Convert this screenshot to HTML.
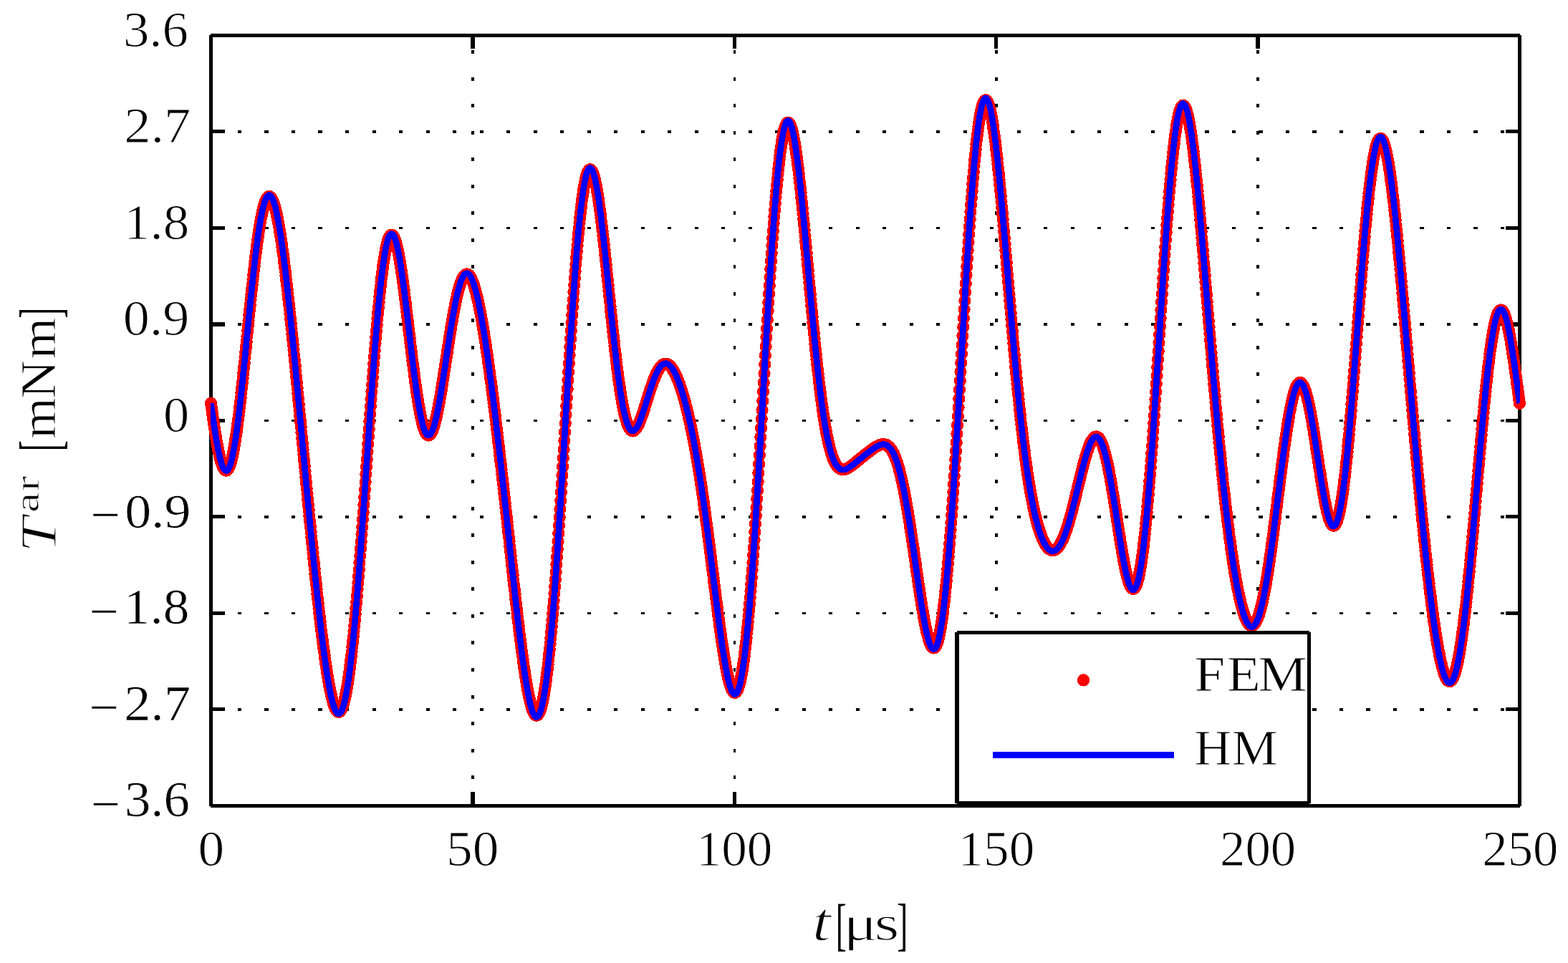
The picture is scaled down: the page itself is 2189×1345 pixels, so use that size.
<!DOCTYPE html>
<html lang="en"><head><meta charset="utf-8"><title>T ar plot</title>
<style>html,body{margin:0;padding:0;background:#fff}body{width:2189px;height:1345px;overflow:hidden}svg{display:block}text{font-family:"Liberation Serif","DejaVu Serif",serif;fill:#000}</style></head><body>
<svg width="2189" height="1345" viewBox="0 0 2189 1345">
<rect width="2189" height="1345" fill="#fff"/>
<g fill="#000" shape-rendering="crispEdges">
<rect x="332" y="182" width="5" height="4"/>
<rect x="369" y="182" width="6" height="4"/>
<rect x="407" y="182" width="5" height="4"/>
<rect x="444" y="182" width="6" height="4"/>
<rect x="482" y="182" width="5" height="4"/>
<rect x="520" y="182" width="5" height="4"/>
<rect x="557" y="182" width="5" height="4"/>
<rect x="595" y="182" width="5" height="4"/>
<rect x="632" y="182" width="5" height="4"/>
<rect x="670" y="182" width="5" height="4"/>
<rect x="707" y="182" width="5" height="4"/>
<rect x="745" y="182" width="5" height="4"/>
<rect x="782" y="182" width="5" height="4"/>
<rect x="820" y="182" width="5" height="4"/>
<rect x="857" y="182" width="5" height="4"/>
<rect x="895" y="182" width="5" height="4"/>
<rect x="932" y="182" width="5" height="4"/>
<rect x="970" y="182" width="5" height="4"/>
<rect x="1007" y="182" width="5" height="4"/>
<rect x="1045" y="182" width="5" height="4"/>
<rect x="1082" y="182" width="5" height="4"/>
<rect x="1120" y="182" width="5" height="4"/>
<rect x="1157" y="182" width="5" height="4"/>
<rect x="1195" y="182" width="5" height="4"/>
<rect x="1232" y="182" width="5" height="4"/>
<rect x="1270" y="182" width="5" height="4"/>
<rect x="1307" y="182" width="5" height="4"/>
<rect x="1345" y="182" width="5" height="4"/>
<rect x="1382" y="182" width="5" height="4"/>
<rect x="1420" y="182" width="5" height="4"/>
<rect x="1457" y="182" width="5" height="4"/>
<rect x="1495" y="182" width="5" height="4"/>
<rect x="1532" y="182" width="5" height="4"/>
<rect x="1570" y="182" width="5" height="4"/>
<rect x="1607" y="182" width="5" height="4"/>
<rect x="1645" y="182" width="5" height="4"/>
<rect x="1682" y="182" width="6" height="4"/>
<rect x="1720" y="182" width="5" height="4"/>
<rect x="1757" y="182" width="6" height="4"/>
<rect x="1795" y="182" width="5" height="4"/>
<rect x="1832" y="182" width="6" height="4"/>
<rect x="1870" y="182" width="5" height="4"/>
<rect x="1907" y="182" width="6" height="4"/>
<rect x="1945" y="182" width="5" height="4"/>
<rect x="1982" y="182" width="6" height="4"/>
<rect x="2020" y="182" width="5" height="4"/>
<rect x="2057" y="182" width="6" height="4"/>
<rect x="2095" y="182" width="5" height="4"/>
<rect x="332" y="317" width="5" height="3"/>
<rect x="369" y="317" width="6" height="3"/>
<rect x="407" y="317" width="5" height="3"/>
<rect x="444" y="317" width="6" height="3"/>
<rect x="482" y="317" width="5" height="3"/>
<rect x="520" y="317" width="5" height="3"/>
<rect x="557" y="317" width="5" height="3"/>
<rect x="595" y="317" width="5" height="3"/>
<rect x="632" y="317" width="5" height="3"/>
<rect x="670" y="317" width="5" height="3"/>
<rect x="707" y="317" width="5" height="3"/>
<rect x="745" y="317" width="5" height="3"/>
<rect x="782" y="317" width="5" height="3"/>
<rect x="820" y="317" width="5" height="3"/>
<rect x="857" y="317" width="5" height="3"/>
<rect x="895" y="317" width="5" height="3"/>
<rect x="932" y="317" width="5" height="3"/>
<rect x="970" y="317" width="5" height="3"/>
<rect x="1007" y="317" width="5" height="3"/>
<rect x="1045" y="317" width="5" height="3"/>
<rect x="1082" y="317" width="5" height="3"/>
<rect x="1120" y="317" width="5" height="3"/>
<rect x="1157" y="317" width="5" height="3"/>
<rect x="1195" y="317" width="5" height="3"/>
<rect x="1232" y="317" width="5" height="3"/>
<rect x="1270" y="317" width="5" height="3"/>
<rect x="1307" y="317" width="5" height="3"/>
<rect x="1345" y="317" width="5" height="3"/>
<rect x="1382" y="317" width="5" height="3"/>
<rect x="1420" y="317" width="5" height="3"/>
<rect x="1457" y="317" width="5" height="3"/>
<rect x="1495" y="317" width="5" height="3"/>
<rect x="1532" y="317" width="5" height="3"/>
<rect x="1570" y="317" width="5" height="3"/>
<rect x="1607" y="317" width="5" height="3"/>
<rect x="1645" y="317" width="5" height="3"/>
<rect x="1682" y="317" width="6" height="3"/>
<rect x="1720" y="317" width="5" height="3"/>
<rect x="1757" y="317" width="6" height="3"/>
<rect x="1795" y="317" width="5" height="3"/>
<rect x="1832" y="317" width="6" height="3"/>
<rect x="1870" y="317" width="5" height="3"/>
<rect x="1907" y="317" width="6" height="3"/>
<rect x="1945" y="317" width="5" height="3"/>
<rect x="1982" y="317" width="6" height="3"/>
<rect x="2020" y="317" width="5" height="3"/>
<rect x="2057" y="317" width="6" height="3"/>
<rect x="2095" y="317" width="5" height="3"/>
<rect x="332" y="451" width="5" height="4"/>
<rect x="369" y="451" width="6" height="4"/>
<rect x="407" y="451" width="5" height="4"/>
<rect x="444" y="451" width="6" height="4"/>
<rect x="482" y="451" width="5" height="4"/>
<rect x="520" y="451" width="5" height="4"/>
<rect x="557" y="451" width="5" height="4"/>
<rect x="595" y="451" width="5" height="4"/>
<rect x="632" y="451" width="5" height="4"/>
<rect x="670" y="451" width="5" height="4"/>
<rect x="707" y="451" width="5" height="4"/>
<rect x="745" y="451" width="5" height="4"/>
<rect x="782" y="451" width="5" height="4"/>
<rect x="820" y="451" width="5" height="4"/>
<rect x="857" y="451" width="5" height="4"/>
<rect x="895" y="451" width="5" height="4"/>
<rect x="932" y="451" width="5" height="4"/>
<rect x="970" y="451" width="5" height="4"/>
<rect x="1007" y="451" width="5" height="4"/>
<rect x="1045" y="451" width="5" height="4"/>
<rect x="1082" y="451" width="5" height="4"/>
<rect x="1120" y="451" width="5" height="4"/>
<rect x="1157" y="451" width="5" height="4"/>
<rect x="1195" y="451" width="5" height="4"/>
<rect x="1232" y="451" width="5" height="4"/>
<rect x="1270" y="451" width="5" height="4"/>
<rect x="1307" y="451" width="5" height="4"/>
<rect x="1345" y="451" width="5" height="4"/>
<rect x="1382" y="451" width="5" height="4"/>
<rect x="1420" y="451" width="5" height="4"/>
<rect x="1457" y="451" width="5" height="4"/>
<rect x="1495" y="451" width="5" height="4"/>
<rect x="1532" y="451" width="5" height="4"/>
<rect x="1570" y="451" width="5" height="4"/>
<rect x="1607" y="451" width="5" height="4"/>
<rect x="1645" y="451" width="5" height="4"/>
<rect x="1682" y="451" width="6" height="4"/>
<rect x="1720" y="451" width="5" height="4"/>
<rect x="1757" y="451" width="6" height="4"/>
<rect x="1795" y="451" width="5" height="4"/>
<rect x="1832" y="451" width="6" height="4"/>
<rect x="1870" y="451" width="5" height="4"/>
<rect x="1907" y="451" width="6" height="4"/>
<rect x="1945" y="451" width="5" height="4"/>
<rect x="1982" y="451" width="6" height="4"/>
<rect x="2020" y="451" width="5" height="4"/>
<rect x="2057" y="451" width="6" height="4"/>
<rect x="2095" y="451" width="5" height="4"/>
<rect x="332" y="586" width="5" height="3"/>
<rect x="369" y="586" width="6" height="3"/>
<rect x="407" y="586" width="5" height="3"/>
<rect x="444" y="586" width="6" height="3"/>
<rect x="482" y="586" width="5" height="3"/>
<rect x="520" y="586" width="5" height="3"/>
<rect x="557" y="586" width="5" height="3"/>
<rect x="595" y="586" width="5" height="3"/>
<rect x="632" y="586" width="5" height="3"/>
<rect x="670" y="586" width="5" height="3"/>
<rect x="707" y="586" width="5" height="3"/>
<rect x="745" y="586" width="5" height="3"/>
<rect x="782" y="586" width="5" height="3"/>
<rect x="820" y="586" width="5" height="3"/>
<rect x="857" y="586" width="5" height="3"/>
<rect x="895" y="586" width="5" height="3"/>
<rect x="932" y="586" width="5" height="3"/>
<rect x="970" y="586" width="5" height="3"/>
<rect x="1007" y="586" width="5" height="3"/>
<rect x="1045" y="586" width="5" height="3"/>
<rect x="1082" y="586" width="5" height="3"/>
<rect x="1120" y="586" width="5" height="3"/>
<rect x="1157" y="586" width="5" height="3"/>
<rect x="1195" y="586" width="5" height="3"/>
<rect x="1232" y="586" width="5" height="3"/>
<rect x="1270" y="586" width="5" height="3"/>
<rect x="1307" y="586" width="5" height="3"/>
<rect x="1345" y="586" width="5" height="3"/>
<rect x="1382" y="586" width="5" height="3"/>
<rect x="1420" y="586" width="5" height="3"/>
<rect x="1457" y="586" width="5" height="3"/>
<rect x="1495" y="586" width="5" height="3"/>
<rect x="1532" y="586" width="5" height="3"/>
<rect x="1570" y="586" width="5" height="3"/>
<rect x="1607" y="586" width="5" height="3"/>
<rect x="1645" y="586" width="5" height="3"/>
<rect x="1682" y="586" width="6" height="3"/>
<rect x="1720" y="586" width="5" height="3"/>
<rect x="1757" y="586" width="6" height="3"/>
<rect x="1795" y="586" width="5" height="3"/>
<rect x="1832" y="586" width="6" height="3"/>
<rect x="1870" y="586" width="5" height="3"/>
<rect x="1907" y="586" width="6" height="3"/>
<rect x="1945" y="586" width="5" height="3"/>
<rect x="1982" y="586" width="6" height="3"/>
<rect x="2020" y="586" width="5" height="3"/>
<rect x="2057" y="586" width="6" height="3"/>
<rect x="2095" y="586" width="5" height="3"/>
<rect x="332" y="720" width="5" height="4"/>
<rect x="369" y="720" width="6" height="4"/>
<rect x="407" y="720" width="5" height="4"/>
<rect x="444" y="720" width="6" height="4"/>
<rect x="482" y="720" width="5" height="4"/>
<rect x="520" y="720" width="5" height="4"/>
<rect x="557" y="720" width="5" height="4"/>
<rect x="595" y="720" width="5" height="4"/>
<rect x="632" y="720" width="5" height="4"/>
<rect x="670" y="720" width="5" height="4"/>
<rect x="707" y="720" width="5" height="4"/>
<rect x="745" y="720" width="5" height="4"/>
<rect x="782" y="720" width="5" height="4"/>
<rect x="820" y="720" width="5" height="4"/>
<rect x="857" y="720" width="5" height="4"/>
<rect x="895" y="720" width="5" height="4"/>
<rect x="932" y="720" width="5" height="4"/>
<rect x="970" y="720" width="5" height="4"/>
<rect x="1007" y="720" width="5" height="4"/>
<rect x="1045" y="720" width="5" height="4"/>
<rect x="1082" y="720" width="5" height="4"/>
<rect x="1120" y="720" width="5" height="4"/>
<rect x="1157" y="720" width="5" height="4"/>
<rect x="1195" y="720" width="5" height="4"/>
<rect x="1232" y="720" width="5" height="4"/>
<rect x="1270" y="720" width="5" height="4"/>
<rect x="1307" y="720" width="5" height="4"/>
<rect x="1345" y="720" width="5" height="4"/>
<rect x="1382" y="720" width="5" height="4"/>
<rect x="1420" y="720" width="5" height="4"/>
<rect x="1457" y="720" width="5" height="4"/>
<rect x="1495" y="720" width="5" height="4"/>
<rect x="1532" y="720" width="5" height="4"/>
<rect x="1570" y="720" width="5" height="4"/>
<rect x="1607" y="720" width="5" height="4"/>
<rect x="1645" y="720" width="5" height="4"/>
<rect x="1682" y="720" width="6" height="4"/>
<rect x="1720" y="720" width="5" height="4"/>
<rect x="1757" y="720" width="6" height="4"/>
<rect x="1795" y="720" width="5" height="4"/>
<rect x="1832" y="720" width="6" height="4"/>
<rect x="1870" y="720" width="5" height="4"/>
<rect x="1907" y="720" width="6" height="4"/>
<rect x="1945" y="720" width="5" height="4"/>
<rect x="1982" y="720" width="6" height="4"/>
<rect x="2020" y="720" width="5" height="4"/>
<rect x="2057" y="720" width="6" height="4"/>
<rect x="2095" y="720" width="5" height="4"/>
<rect x="332" y="855" width="5" height="3"/>
<rect x="369" y="855" width="6" height="3"/>
<rect x="407" y="855" width="5" height="3"/>
<rect x="444" y="855" width="6" height="3"/>
<rect x="482" y="855" width="5" height="3"/>
<rect x="520" y="855" width="5" height="3"/>
<rect x="557" y="855" width="5" height="3"/>
<rect x="595" y="855" width="5" height="3"/>
<rect x="632" y="855" width="5" height="3"/>
<rect x="670" y="855" width="5" height="3"/>
<rect x="707" y="855" width="5" height="3"/>
<rect x="745" y="855" width="5" height="3"/>
<rect x="782" y="855" width="5" height="3"/>
<rect x="820" y="855" width="5" height="3"/>
<rect x="857" y="855" width="5" height="3"/>
<rect x="895" y="855" width="5" height="3"/>
<rect x="932" y="855" width="5" height="3"/>
<rect x="970" y="855" width="5" height="3"/>
<rect x="1007" y="855" width="5" height="3"/>
<rect x="1045" y="855" width="5" height="3"/>
<rect x="1082" y="855" width="5" height="3"/>
<rect x="1120" y="855" width="5" height="3"/>
<rect x="1157" y="855" width="5" height="3"/>
<rect x="1195" y="855" width="5" height="3"/>
<rect x="1232" y="855" width="5" height="3"/>
<rect x="1270" y="855" width="5" height="3"/>
<rect x="1307" y="855" width="5" height="3"/>
<rect x="1345" y="855" width="5" height="3"/>
<rect x="1382" y="855" width="5" height="3"/>
<rect x="1420" y="855" width="5" height="3"/>
<rect x="1457" y="855" width="5" height="3"/>
<rect x="1495" y="855" width="5" height="3"/>
<rect x="1532" y="855" width="5" height="3"/>
<rect x="1570" y="855" width="5" height="3"/>
<rect x="1607" y="855" width="5" height="3"/>
<rect x="1645" y="855" width="5" height="3"/>
<rect x="1682" y="855" width="6" height="3"/>
<rect x="1720" y="855" width="5" height="3"/>
<rect x="1757" y="855" width="6" height="3"/>
<rect x="1795" y="855" width="5" height="3"/>
<rect x="1832" y="855" width="6" height="3"/>
<rect x="1870" y="855" width="5" height="3"/>
<rect x="1907" y="855" width="6" height="3"/>
<rect x="1945" y="855" width="5" height="3"/>
<rect x="1982" y="855" width="6" height="3"/>
<rect x="2020" y="855" width="5" height="3"/>
<rect x="2057" y="855" width="6" height="3"/>
<rect x="2095" y="855" width="5" height="3"/>
<rect x="332" y="989" width="5" height="4"/>
<rect x="369" y="989" width="6" height="4"/>
<rect x="407" y="989" width="5" height="4"/>
<rect x="444" y="989" width="6" height="4"/>
<rect x="482" y="989" width="5" height="4"/>
<rect x="520" y="989" width="5" height="4"/>
<rect x="557" y="989" width="5" height="4"/>
<rect x="595" y="989" width="5" height="4"/>
<rect x="632" y="989" width="5" height="4"/>
<rect x="670" y="989" width="5" height="4"/>
<rect x="707" y="989" width="5" height="4"/>
<rect x="745" y="989" width="5" height="4"/>
<rect x="782" y="989" width="5" height="4"/>
<rect x="820" y="989" width="5" height="4"/>
<rect x="857" y="989" width="5" height="4"/>
<rect x="895" y="989" width="5" height="4"/>
<rect x="932" y="989" width="5" height="4"/>
<rect x="970" y="989" width="5" height="4"/>
<rect x="1007" y="989" width="5" height="4"/>
<rect x="1045" y="989" width="5" height="4"/>
<rect x="1082" y="989" width="5" height="4"/>
<rect x="1120" y="989" width="5" height="4"/>
<rect x="1157" y="989" width="5" height="4"/>
<rect x="1195" y="989" width="5" height="4"/>
<rect x="1232" y="989" width="5" height="4"/>
<rect x="1270" y="989" width="5" height="4"/>
<rect x="1307" y="989" width="5" height="4"/>
<rect x="1345" y="989" width="5" height="4"/>
<rect x="1382" y="989" width="5" height="4"/>
<rect x="1420" y="989" width="5" height="4"/>
<rect x="1457" y="989" width="5" height="4"/>
<rect x="1495" y="989" width="5" height="4"/>
<rect x="1532" y="989" width="5" height="4"/>
<rect x="1570" y="989" width="5" height="4"/>
<rect x="1607" y="989" width="5" height="4"/>
<rect x="1645" y="989" width="5" height="4"/>
<rect x="1682" y="989" width="6" height="4"/>
<rect x="1720" y="989" width="5" height="4"/>
<rect x="1757" y="989" width="6" height="4"/>
<rect x="1795" y="989" width="5" height="4"/>
<rect x="1832" y="989" width="6" height="4"/>
<rect x="1870" y="989" width="5" height="4"/>
<rect x="1907" y="989" width="6" height="4"/>
<rect x="1945" y="989" width="5" height="4"/>
<rect x="1982" y="989" width="6" height="4"/>
<rect x="2020" y="989" width="5" height="4"/>
<rect x="2057" y="989" width="6" height="4"/>
<rect x="2095" y="989" width="5" height="4"/>
<rect x="658" y="1083" width="4" height="5"/>
<rect x="658" y="1046" width="4" height="5"/>
<rect x="658" y="1008" width="4" height="5"/>
<rect x="658" y="971" width="4" height="5"/>
<rect x="658" y="933" width="4" height="5"/>
<rect x="658" y="895" width="4" height="5"/>
<rect x="658" y="858" width="4" height="5"/>
<rect x="658" y="820" width="4" height="5"/>
<rect x="658" y="783" width="4" height="5"/>
<rect x="658" y="745" width="4" height="5"/>
<rect x="658" y="708" width="4" height="5"/>
<rect x="658" y="670" width="4" height="5"/>
<rect x="658" y="633" width="4" height="5"/>
<rect x="658" y="595" width="4" height="5"/>
<rect x="658" y="558" width="4" height="5"/>
<rect x="658" y="520" width="4" height="5"/>
<rect x="658" y="483" width="4" height="5"/>
<rect x="658" y="445" width="4" height="5"/>
<rect x="658" y="408" width="4" height="5"/>
<rect x="658" y="370" width="4" height="5"/>
<rect x="658" y="333" width="4" height="5"/>
<rect x="658" y="295" width="4" height="5"/>
<rect x="658" y="258" width="4" height="5"/>
<rect x="658" y="220" width="4" height="5"/>
<rect x="658" y="183" width="4" height="5"/>
<rect x="658" y="145" width="4" height="5"/>
<rect x="658" y="108" width="4" height="5"/>
<rect x="658" y="70" width="4" height="5"/>
<rect x="1024" y="1083" width="3" height="5"/>
<rect x="1024" y="1046" width="3" height="5"/>
<rect x="1024" y="1008" width="3" height="5"/>
<rect x="1024" y="971" width="3" height="5"/>
<rect x="1024" y="933" width="3" height="5"/>
<rect x="1024" y="895" width="3" height="5"/>
<rect x="1024" y="858" width="3" height="5"/>
<rect x="1024" y="820" width="3" height="5"/>
<rect x="1024" y="783" width="3" height="5"/>
<rect x="1024" y="745" width="3" height="5"/>
<rect x="1024" y="708" width="3" height="5"/>
<rect x="1024" y="670" width="3" height="5"/>
<rect x="1024" y="633" width="3" height="5"/>
<rect x="1024" y="595" width="3" height="5"/>
<rect x="1024" y="558" width="3" height="5"/>
<rect x="1024" y="520" width="3" height="5"/>
<rect x="1024" y="483" width="3" height="5"/>
<rect x="1024" y="445" width="3" height="5"/>
<rect x="1024" y="408" width="3" height="5"/>
<rect x="1024" y="370" width="3" height="5"/>
<rect x="1024" y="333" width="3" height="5"/>
<rect x="1024" y="295" width="3" height="5"/>
<rect x="1024" y="258" width="3" height="5"/>
<rect x="1024" y="220" width="3" height="5"/>
<rect x="1024" y="183" width="3" height="5"/>
<rect x="1024" y="145" width="3" height="5"/>
<rect x="1024" y="108" width="3" height="5"/>
<rect x="1024" y="70" width="3" height="5"/>
<rect x="1389" y="1083" width="4" height="5"/>
<rect x="1389" y="1046" width="4" height="5"/>
<rect x="1389" y="1008" width="4" height="5"/>
<rect x="1389" y="971" width="4" height="5"/>
<rect x="1389" y="933" width="4" height="5"/>
<rect x="1389" y="895" width="4" height="5"/>
<rect x="1389" y="858" width="4" height="5"/>
<rect x="1389" y="820" width="4" height="5"/>
<rect x="1389" y="783" width="4" height="5"/>
<rect x="1389" y="745" width="4" height="5"/>
<rect x="1389" y="708" width="4" height="5"/>
<rect x="1389" y="670" width="4" height="5"/>
<rect x="1389" y="633" width="4" height="5"/>
<rect x="1389" y="595" width="4" height="5"/>
<rect x="1389" y="558" width="4" height="5"/>
<rect x="1389" y="520" width="4" height="5"/>
<rect x="1389" y="483" width="4" height="5"/>
<rect x="1389" y="445" width="4" height="5"/>
<rect x="1389" y="408" width="4" height="5"/>
<rect x="1389" y="370" width="4" height="5"/>
<rect x="1389" y="333" width="4" height="5"/>
<rect x="1389" y="295" width="4" height="5"/>
<rect x="1389" y="258" width="4" height="5"/>
<rect x="1389" y="220" width="4" height="5"/>
<rect x="1389" y="183" width="4" height="5"/>
<rect x="1389" y="145" width="4" height="5"/>
<rect x="1389" y="108" width="4" height="5"/>
<rect x="1389" y="70" width="4" height="5"/>
<rect x="1754" y="1083" width="4" height="5"/>
<rect x="1754" y="1046" width="4" height="5"/>
<rect x="1754" y="1008" width="4" height="5"/>
<rect x="1754" y="971" width="4" height="5"/>
<rect x="1754" y="933" width="4" height="5"/>
<rect x="1754" y="895" width="4" height="5"/>
<rect x="1754" y="858" width="4" height="5"/>
<rect x="1754" y="820" width="4" height="5"/>
<rect x="1754" y="783" width="4" height="5"/>
<rect x="1754" y="745" width="4" height="5"/>
<rect x="1754" y="708" width="4" height="5"/>
<rect x="1754" y="670" width="4" height="5"/>
<rect x="1754" y="633" width="4" height="5"/>
<rect x="1754" y="595" width="4" height="5"/>
<rect x="1754" y="558" width="4" height="5"/>
<rect x="1754" y="520" width="4" height="5"/>
<rect x="1754" y="483" width="4" height="5"/>
<rect x="1754" y="445" width="4" height="5"/>
<rect x="1754" y="408" width="4" height="5"/>
<rect x="1754" y="370" width="4" height="5"/>
<rect x="1754" y="333" width="4" height="5"/>
<rect x="1754" y="295" width="4" height="5"/>
<rect x="1754" y="258" width="4" height="5"/>
<rect x="1754" y="220" width="4" height="5"/>
<rect x="1754" y="183" width="4" height="5"/>
<rect x="1754" y="145" width="4" height="5"/>
<rect x="1754" y="108" width="4" height="5"/>
<rect x="1754" y="70" width="4" height="5"/>
<rect x="294" y="47" width="1828" height="5"/>
<rect x="294" y="1123" width="1828" height="5"/>
<rect x="292" y="49" width="5" height="1077"/>
<rect x="2119" y="49" width="5" height="1077"/>
<rect x="297" y="181" width="17" height="5"/>
<rect x="2102" y="181" width="17" height="5"/>
<rect x="297" y="316" width="17" height="5"/>
<rect x="2102" y="316" width="17" height="5"/>
<rect x="297" y="450" width="17" height="6"/>
<rect x="2102" y="450" width="17" height="6"/>
<rect x="297" y="585" width="17" height="5"/>
<rect x="2102" y="585" width="17" height="5"/>
<rect x="297" y="719" width="17" height="5"/>
<rect x="2102" y="719" width="17" height="5"/>
<rect x="297" y="854" width="17" height="5"/>
<rect x="2102" y="854" width="17" height="5"/>
<rect x="297" y="988" width="17" height="5"/>
<rect x="2102" y="988" width="17" height="5"/>
<rect x="657" y="52" width="6" height="16"/>
<rect x="657" y="1106" width="6" height="17"/>
<rect x="1023" y="52" width="5" height="16"/>
<rect x="1023" y="1106" width="5" height="17"/>
<rect x="1388" y="52" width="5" height="16"/>
<rect x="1388" y="1106" width="5" height="17"/>
<rect x="1753" y="52" width="6" height="16"/>
<rect x="1753" y="1106" width="6" height="17"/>
</g>
<clipPath id="axclip"><rect x="294" y="0" width="1828" height="1345"/></clipPath>
<g fill="none" shape-rendering="crispEdges">
<marker id="fem" markerWidth="20" markerHeight="20" refX="10" refY="10" markerUnits="userSpaceOnUse"><circle cx="10" cy="10" r="8.6" fill="#f00" shape-rendering="crispEdges"/></marker>
<polyline stroke="none" marker-start="url(#fem)" marker-mid="url(#fem)" marker-end="url(#fem)" points="294.5,563.3 295.2,568.6 296.0,573.8 296.7,579.0 297.4,584.1 298.2,589.1 298.9,594.0 299.6,598.8 300.3,603.5 301.1,608.1 301.8,612.5 302.5,616.7 303.3,620.8 304.0,624.7 304.7,628.5 305.5,632.0 306.2,635.3 306.9,638.5 307.7,641.4 308.4,644.1 309.1,646.5 309.8,648.7 310.6,650.7 311.3,652.4 312.0,653.9 312.8,655.1 313.5,656.0 314.2,656.7 315.0,657.1 315.7,657.2 316.4,657.0 317.2,656.6 317.9,655.9 318.6,654.9 319.3,653.7 320.1,652.1 320.8,650.3 321.5,648.2 322.3,645.8 323.0,643.2 323.7,640.3 324.5,637.1 325.2,633.7 325.9,630.0 326.7,626.0 327.4,621.8 328.1,617.4 328.8,612.8 329.6,607.9 330.3,602.8 331.0,597.5 331.8,592.0 332.5,586.3 333.2,580.4 334.0,574.4 334.7,568.2 335.4,561.8 336.2,555.3 336.9,548.6 337.6,541.9 338.3,535.0 339.1,528.0 339.8,520.9 340.5,513.7 341.3,506.5 342.0,499.2 342.7,491.9 343.5,484.5 344.2,477.1 344.9,469.7 345.7,462.3 346.4,454.9 347.1,447.5 347.8,440.2 348.6,432.9 349.3,425.7 350.0,418.5 350.8,411.4 351.5,404.4 352.2,397.5 353.0,390.7 353.7,384.0 354.4,377.5 355.2,371.1 355.9,364.8 356.6,358.7 357.3,352.7 358.1,347.0 358.8,341.4 359.5,336.0 360.3,330.7 361.0,325.7 361.7,320.9 362.5,316.3 363.2,311.9 363.9,307.8 364.7,303.8 365.4,300.2 366.1,296.7 366.8,293.5 367.6,290.5 368.3,287.8 369.0,285.3 369.8,283.1 370.5,281.1 371.2,279.4 372.0,277.9 372.7,276.7 373.4,275.8 374.2,275.1 374.9,274.6 375.6,274.4 376.3,274.5 377.1,274.8 377.8,275.4 378.5,276.2 379.3,277.3 380.0,278.6 380.7,280.1 381.5,281.9 382.2,284.0 382.9,286.2 383.7,288.7 384.4,291.4 385.1,294.3 385.9,297.5 386.6,300.8 387.3,304.4 388.0,308.1 388.8,312.1 389.5,316.2 390.2,320.5 391.0,325.1 391.7,329.7 392.4,334.6 393.2,339.6 393.9,344.8 394.6,350.1 395.4,355.6 396.1,361.2 396.8,367.0 397.5,372.9 398.3,378.9 399.0,385.1 399.7,391.4 400.5,397.7 401.2,404.2 401.9,410.8 402.7,417.5 403.4,424.3 404.1,431.2 404.9,438.1 405.6,445.2 406.3,452.3 407.0,459.4 407.8,466.7 408.5,474.0 409.2,481.4 410.0,488.8 410.7,496.2 411.4,503.8 412.2,511.3 412.9,518.9 413.6,526.5 414.4,534.2 415.1,541.9 415.8,549.6 416.5,557.3 417.3,565.1 418.0,572.9 418.7,580.7 419.5,588.5 420.2,596.3 420.9,604.1 421.7,611.9 422.4,619.8 423.1,627.6 423.9,635.4 424.6,643.2 425.3,651.0 426.0,658.8 426.8,666.6 427.5,674.4 428.2,682.1 429.0,689.8 429.7,697.5 430.4,705.2 431.2,712.9 431.9,720.5 432.6,728.1 433.4,735.6 434.1,743.2 434.8,750.6 435.5,758.1 436.3,765.5 437.0,772.8 437.7,780.1 438.5,787.3 439.2,794.5 439.9,801.6 440.7,808.7 441.4,815.7 442.1,822.6 442.9,829.5 443.6,836.2 444.3,842.9 445.0,849.5 445.8,856.0 446.5,862.5 447.2,868.8 448.0,875.0 448.7,881.1 449.4,887.2 450.2,893.1 450.9,898.8 451.6,904.5 452.4,910.0 453.1,915.4 453.8,920.7 454.5,925.8 455.3,930.8 456.0,935.7 456.7,940.3 457.5,944.9 458.2,949.2 458.9,953.4 459.7,957.4 460.4,961.2 461.1,964.9 461.9,968.3 462.6,971.6 463.3,974.7 464.0,977.5 464.8,980.2 465.5,982.6 466.2,984.9 467.0,986.9 467.7,988.6 468.4,990.2 469.2,991.5 469.9,992.6 470.6,993.4 471.4,994.0 472.1,994.4 472.8,994.5 473.5,994.3 474.3,993.9 475.0,993.2 475.7,992.3 476.5,991.1 477.2,989.6 477.9,987.8 478.7,985.8 479.4,983.6 480.1,981.0 480.9,978.2 481.6,975.1 482.3,971.7 483.0,968.1 483.8,964.2 484.5,960.0 485.2,955.5 486.0,950.8 486.7,945.8 487.4,940.5 488.2,935.0 488.9,929.2 489.6,923.2 490.4,916.9 491.1,910.4 491.8,903.6 492.5,896.5 493.3,889.3 494.0,881.8 494.7,874.1 495.5,866.1 496.2,858.0 496.9,849.6 497.7,841.1 498.4,832.3 499.1,823.4 499.9,814.3 500.6,805.0 501.3,795.6 502.0,786.0 502.8,776.3 503.5,766.4 504.2,756.5 505.0,746.4 505.7,736.2 506.4,725.9 507.2,715.5 507.9,705.1 508.6,694.6 509.4,684.0 510.1,673.4 510.8,662.8 511.5,652.1 512.3,641.5 513.0,630.8 513.7,620.2 514.5,609.6 515.2,599.1 515.9,588.6 516.7,578.1 517.4,567.8 518.1,557.5 518.9,547.4 519.6,537.3 520.3,527.4 521.0,517.6 521.8,507.9 522.5,498.4 523.2,489.1 524.0,479.9 524.7,471.0 525.4,462.2 526.2,453.7 526.9,445.3 527.6,437.2 528.4,429.4 529.1,421.7 529.8,414.4 530.5,407.2 531.3,400.4 532.0,393.8 532.7,387.6 533.5,381.6 534.2,375.9 534.9,370.5 535.7,365.4 536.4,360.6 537.1,356.2 537.9,352.1 538.6,348.2 539.3,344.8 540.0,341.6 540.8,338.8 541.5,336.3 542.2,334.1 543.0,332.3 543.7,330.8 544.4,329.6 545.2,328.8 545.9,328.3 546.6,328.1 547.4,328.2 548.1,328.7 548.8,329.4 549.5,330.5 550.3,331.9 551.0,333.6 551.7,335.5 552.5,337.8 553.2,340.3 553.9,343.1 554.7,346.2 555.4,349.6 556.1,353.1 556.9,356.9 557.6,361.0 558.3,365.3 559.0,369.7 559.8,374.4 560.5,379.3 561.2,384.3 562.0,389.5 562.7,394.8 563.4,400.3 564.2,406.0 564.9,411.7 565.6,417.6 566.4,423.5 567.1,429.5 567.8,435.6 568.5,441.8 569.3,448.0 570.0,454.2 570.7,460.4 571.5,466.7 572.2,472.9 572.9,479.1 573.7,485.3 574.4,491.5 575.1,497.5 575.9,503.6 576.6,509.5 577.3,515.4 578.1,521.1 578.8,526.8 579.5,532.3 580.2,537.7 581.0,542.9 581.7,548.0 582.4,552.9 583.2,557.7 583.9,562.3 584.6,566.7 585.4,570.9 586.1,574.9 586.8,578.7 587.6,582.3 588.3,585.7 589.0,588.8 589.7,591.7 590.5,594.4 591.2,596.9 591.9,599.1 592.7,601.0 593.4,602.8 594.1,604.3 594.9,605.5 595.6,606.5 596.3,607.2 597.1,607.7 597.8,608.0 598.5,608.0 599.2,607.7 600.0,607.2 600.7,606.5 601.4,605.6 602.2,604.4 602.9,603.0 603.6,601.3 604.4,599.5 605.1,597.4 605.8,595.2 606.6,592.7 607.3,590.0 608.0,587.2 608.7,584.1 609.5,580.9 610.2,577.6 610.9,574.0 611.7,570.4 612.4,566.6 613.1,562.6 613.9,558.5 614.6,554.4 615.3,550.1 616.1,545.7 616.8,541.2 617.5,536.6 618.2,532.0 619.0,527.3 619.7,522.6 620.4,517.8 621.2,513.0 621.9,508.2 622.6,503.4 623.4,498.5 624.1,493.7 624.8,488.9 625.6,484.0 626.3,479.3 627.0,474.5 627.7,469.9 628.5,465.2 629.2,460.7 629.9,456.2 630.7,451.8 631.4,447.5 632.1,443.2 632.9,439.1 633.6,435.1 634.3,431.2 635.1,427.4 635.8,423.8 636.5,420.2 637.2,416.8 638.0,413.6 638.7,410.5 639.4,407.5 640.2,404.7 640.9,402.1 641.6,399.6 642.4,397.3 643.1,395.2 643.8,393.2 644.6,391.4 645.3,389.7 646.0,388.3 646.7,387.0 647.5,385.9 648.2,384.9 648.9,384.2 649.7,383.6 650.4,383.2 651.1,382.9 651.9,382.9 652.6,383.0 653.3,383.3 654.1,383.8 654.8,384.4 655.5,385.3 656.2,386.2 657.0,387.4 657.7,388.7 658.4,390.2 659.2,391.8 659.9,393.6 660.6,395.6 661.4,397.7 662.1,400.0 662.8,402.4 663.6,404.9 664.3,407.6 665.0,410.4 665.7,413.4 666.5,416.5 667.2,419.7 667.9,423.1 668.7,426.6 669.4,430.2 670.1,433.9 670.9,437.7 671.6,441.7 672.3,445.7 673.1,449.9 673.8,454.1 674.5,458.5 675.2,462.9 676.0,467.5 676.7,472.1 677.4,476.8 678.2,481.6 678.9,486.5 679.6,491.5 680.4,496.6 681.1,501.7 681.8,506.9 682.6,512.2 683.3,517.5 684.0,522.9 684.7,528.4 685.5,534.0 686.2,539.6 686.9,545.2 687.7,551.0 688.4,556.8 689.1,562.6 689.9,568.5 690.6,574.4 691.3,580.4 692.1,586.5 692.8,592.6 693.5,598.7 694.2,604.9 695.0,611.2 695.7,617.4 696.4,623.8 697.2,630.1 697.9,636.5 698.6,643.0 699.4,649.4 700.1,655.9 700.8,662.5 701.6,669.0 702.3,675.7 703.0,682.3 703.7,688.9 704.5,695.6 705.2,702.3 705.9,709.0 706.7,715.8 707.4,722.5 708.1,729.3 708.9,736.1 709.6,742.9 710.3,749.6 711.1,756.4 711.8,763.2 712.5,770.0 713.2,776.8 714.0,783.6 714.7,790.3 715.4,797.1 716.2,803.8 716.9,810.5 717.6,817.1 718.4,823.8 719.1,830.3 719.8,836.9 720.6,843.4 721.3,849.8 722.0,856.2 722.7,862.6 723.5,868.8 724.2,875.0 724.9,881.1 725.7,887.1 726.4,893.1 727.1,898.9 727.9,904.7 728.6,910.3 729.3,915.8 730.1,921.2 730.8,926.5 731.5,931.6 732.2,936.6 733.0,941.5 733.7,946.2 734.4,950.8 735.2,955.2 735.9,959.4 736.6,963.4 737.4,967.3 738.1,971.0 738.8,974.4 739.6,977.7 740.3,980.8 741.0,983.6 741.7,986.3 742.5,988.7 743.2,990.9 743.9,992.8 744.7,994.5 745.4,996.0 746.1,997.2 746.9,998.1 747.6,998.8 748.3,999.2 749.1,999.3 749.8,999.2 750.5,998.7 751.2,998.0 752.0,997.0 752.7,995.8 753.4,994.2 754.2,992.3 754.9,990.1 755.6,987.6 756.4,984.9 757.1,981.8 757.8,978.4 758.6,974.7 759.3,970.7 760.0,966.4 760.8,961.8 761.5,956.8 762.2,951.6 762.9,946.1 763.7,940.3 764.4,934.1 765.1,927.7 765.9,921.0 766.6,914.0 767.3,906.7 768.1,899.1 768.8,891.3 769.5,883.2 770.3,874.8 771.0,866.2 771.7,857.3 772.4,848.2 773.2,838.8 773.9,829.2 774.6,819.4 775.4,809.3 776.1,799.1 776.8,788.6 777.6,778.0 778.3,767.2 779.0,756.2 779.8,745.1 780.5,733.8 781.2,722.4 781.9,710.9 782.7,699.3 783.4,687.5 784.1,675.7 784.9,663.8 785.6,651.8 786.3,639.8 787.1,627.7 787.8,615.6 788.5,603.5 789.3,591.4 790.0,579.3 790.7,567.2 791.4,555.2 792.2,543.2 792.9,531.3 793.6,519.5 794.4,507.7 795.1,496.1 795.8,484.6 796.6,473.2 797.3,461.9 798.0,450.9 798.8,439.9 799.5,429.2 800.2,418.7 800.9,408.3 801.7,398.2 802.4,388.3 803.1,378.6 803.9,369.2 804.6,360.1 805.3,351.2 806.1,342.6 806.8,334.3 807.5,326.3 808.3,318.6 809.0,311.2 809.7,304.1 810.4,297.4 811.2,290.9 811.9,284.9 812.6,279.1 813.4,273.8 814.1,268.7 814.8,264.1 815.6,259.8 816.3,255.8 817.0,252.2 817.8,249.0 818.5,246.2 819.2,243.7 819.9,241.6 820.7,239.9 821.4,238.5 822.1,237.6 822.9,236.9 823.6,236.7 824.3,236.8 825.1,237.2 825.8,238.0 826.5,239.1 827.3,240.6 828.0,242.4 828.7,244.6 829.4,247.0 830.2,249.8 830.9,252.9 831.6,256.2 832.4,259.9 833.1,263.8 833.8,268.0 834.6,272.5 835.3,277.2 836.0,282.2 836.8,287.4 837.5,292.8 838.2,298.4 838.9,304.2 839.7,310.1 840.4,316.3 841.1,322.6 841.9,329.1 842.6,335.6 843.3,342.4 844.1,349.2 844.8,356.1 845.5,363.1 846.3,370.2 847.0,377.3 847.7,384.5 848.4,391.7 849.2,398.9 849.9,406.1 850.6,413.4 851.4,420.6 852.1,427.8 852.8,435.0 853.6,442.1 854.3,449.1 855.0,456.1 855.8,463.0 856.5,469.8 857.2,476.5 857.9,483.1 858.7,489.6 859.4,495.9 860.1,502.1 860.9,508.2 861.6,514.1 862.3,519.9 863.1,525.5 863.8,530.9 864.5,536.1 865.3,541.2 866.0,546.1 866.7,550.8 867.4,555.3 868.2,559.5 868.9,563.6 869.6,567.5 870.4,571.2 871.1,574.6 871.8,577.9 872.6,580.9 873.3,583.8 874.0,586.4 874.8,588.8 875.5,591.0 876.2,593.0 876.9,594.7 877.7,596.3 878.4,597.7 879.1,598.9 879.9,599.8 880.6,600.6 881.3,601.2 882.1,601.6 882.8,601.8 883.5,601.9 884.3,601.8 885.0,601.5 885.7,601.0 886.4,600.4 887.2,599.7 887.9,598.8 888.6,597.7 889.4,596.6 890.1,595.3 890.8,593.9 891.6,592.4 892.3,590.8 893.0,589.0 893.8,587.2 894.5,585.4 895.2,583.4 895.9,581.4 896.7,579.3 897.4,577.1 898.1,574.9 898.9,572.7 899.6,570.4 900.3,568.1 901.1,565.8 901.8,563.4 902.5,561.1 903.3,558.7 904.0,556.4 904.7,554.1 905.4,551.7 906.2,549.4 906.9,547.1 907.6,544.9 908.4,542.7 909.1,540.5 909.8,538.4 910.6,536.3 911.3,534.2 912.0,532.3 912.8,530.4 913.5,528.5 914.2,526.7 914.9,525.0 915.7,523.4 916.4,521.8 917.1,520.3 917.9,518.9 918.6,517.6 919.3,516.3 920.1,515.1 920.8,514.1 921.5,513.1 922.3,512.2 923.0,511.4 923.7,510.6 924.4,510.0 925.2,509.5 925.9,509.0 926.6,508.7 927.4,508.4 928.1,508.2 928.8,508.1 929.6,508.1 930.3,508.2 931.0,508.4 931.8,508.6 932.5,509.0 933.2,509.4 934.0,509.9 934.7,510.5 935.4,511.2 936.1,512.0 936.9,512.8 937.6,513.8 938.3,514.8 939.1,515.9 939.8,517.0 940.5,518.3 941.3,519.6 942.0,520.9 942.7,522.4 943.5,523.9 944.2,525.5 944.9,527.2 945.6,528.9 946.4,530.7 947.1,532.6 947.8,534.5 948.6,536.5 949.3,538.6 950.0,540.7 950.8,542.9 951.5,545.2 952.2,547.5 953.0,549.9 953.7,552.3 954.4,554.8 955.1,557.4 955.9,560.0 956.6,562.7 957.3,565.5 958.1,568.3 958.8,571.2 959.5,574.2 960.3,577.2 961.0,580.3 961.7,583.5 962.5,586.7 963.2,590.0 963.9,593.3 964.6,596.8 965.4,600.3 966.1,603.8 966.8,607.5 967.6,611.2 968.3,614.9 969.0,618.8 969.8,622.7 970.5,626.7 971.2,630.8 972.0,634.9 972.7,639.1 973.4,643.4 974.1,647.7 974.9,652.2 975.6,656.7 976.3,661.3 977.1,665.9 977.8,670.6 978.5,675.4 979.3,680.3 980.0,685.2 980.7,690.2 981.5,695.2 982.2,700.4 982.9,705.6 983.6,710.8 984.4,716.1 985.1,721.5 985.8,726.9 986.6,732.4 987.3,737.9 988.0,743.5 988.8,749.1 989.5,754.8 990.2,760.5 991.0,766.3 991.7,772.0 992.4,777.8 993.1,783.6 993.9,789.5 994.6,795.3 995.3,801.2 996.1,807.0 996.8,812.9 997.5,818.7 998.3,824.5 999.0,830.4 999.7,836.1 1000.5,841.9 1001.2,847.6 1001.9,853.3 1002.6,858.9 1003.4,864.5 1004.1,870.0 1004.8,875.4 1005.6,880.8 1006.3,886.0 1007.0,891.2 1007.8,896.2 1008.5,901.2 1009.2,906.0 1010.0,910.8 1010.7,915.3 1011.4,919.8 1012.1,924.1 1012.9,928.2 1013.6,932.2 1014.3,936.0 1015.1,939.6 1015.8,943.1 1016.5,946.3 1017.3,949.3 1018.0,952.2 1018.7,954.8 1019.5,957.2 1020.2,959.3 1020.9,961.3 1021.6,962.9 1022.4,964.4 1023.1,965.5 1023.8,966.4 1024.6,967.1 1025.3,967.4 1026.0,967.5 1026.8,967.3 1027.5,966.8 1028.2,966.0 1029.0,964.9 1029.7,963.5 1030.4,961.8 1031.1,959.8 1031.9,957.4 1032.6,954.8 1033.3,951.8 1034.1,948.5 1034.8,944.9 1035.5,940.9 1036.3,936.7 1037.0,932.1 1037.7,927.1 1038.5,921.9 1039.2,916.3 1039.9,910.5 1040.6,904.2 1041.4,897.7 1042.1,890.9 1042.8,883.7 1043.6,876.3 1044.3,868.5 1045.0,860.5 1045.8,852.1 1046.5,843.5 1047.2,834.6 1048.0,825.4 1048.7,816.0 1049.4,806.2 1050.1,796.3 1050.9,786.1 1051.6,775.6 1052.3,765.0 1053.1,754.1 1053.8,743.0 1054.5,731.7 1055.3,720.3 1056.0,708.6 1056.7,696.8 1057.5,684.9 1058.2,672.8 1058.9,660.6 1059.6,648.2 1060.4,635.8 1061.1,623.3 1061.8,610.7 1062.6,598.1 1063.3,585.4 1064.0,572.6 1064.8,559.9 1065.5,547.1 1066.2,534.4 1067.0,521.7 1067.7,509.0 1068.4,496.3 1069.1,483.8 1069.9,471.3 1070.6,458.9 1071.3,446.6 1072.1,434.4 1072.8,422.4 1073.5,410.5 1074.3,398.8 1075.0,387.2 1075.7,375.9 1076.5,364.7 1077.2,353.8 1077.9,343.1 1078.6,332.6 1079.4,322.4 1080.1,312.4 1080.8,302.7 1081.6,293.3 1082.3,284.2 1083.0,275.4 1083.8,266.9 1084.5,258.7 1085.2,250.8 1086.0,243.3 1086.7,236.2 1087.4,229.3 1088.1,222.9 1088.9,216.8 1089.6,211.1 1090.3,205.7 1091.1,200.7 1091.8,196.1 1092.5,191.9 1093.3,188.1 1094.0,184.6 1094.7,181.6 1095.5,178.9 1096.2,176.6 1096.9,174.8 1097.6,173.3 1098.4,172.2 1099.1,171.5 1099.8,171.1 1100.6,171.2 1101.3,171.6 1102.0,172.4 1102.8,173.5 1103.5,175.0 1104.2,176.9 1105.0,179.1 1105.7,181.7 1106.4,184.6 1107.1,187.8 1107.9,191.3 1108.6,195.2 1109.3,199.4 1110.1,203.8 1110.8,208.5 1111.5,213.5 1112.3,218.8 1113.0,224.3 1113.7,230.1 1114.5,236.1 1115.2,242.3 1115.9,248.7 1116.7,255.3 1117.4,262.1 1118.1,269.1 1118.8,276.2 1119.6,283.5 1120.3,291.0 1121.0,298.5 1121.8,306.2 1122.5,313.9 1123.2,321.8 1124.0,329.7 1124.7,337.7 1125.4,345.8 1126.2,353.9 1126.9,362.0 1127.6,370.2 1128.3,378.3 1129.1,386.5 1129.8,394.6 1130.5,402.8 1131.3,410.8 1132.0,418.9 1132.7,426.9 1133.5,434.8 1134.2,442.7 1134.9,450.5 1135.7,458.2 1136.4,465.8 1137.1,473.3 1137.8,480.7 1138.6,487.9 1139.3,495.1 1140.0,502.1 1140.8,509.0 1141.5,515.7 1142.2,522.3 1143.0,528.8 1143.7,535.1 1144.4,541.2 1145.2,547.2 1145.9,553.0 1146.6,558.6 1147.3,564.1 1148.1,569.4 1148.8,574.5 1149.5,579.5 1150.3,584.3 1151.0,588.9 1151.7,593.3 1152.5,597.6 1153.2,601.7 1153.9,605.6 1154.7,609.3 1155.4,612.9 1156.1,616.3 1156.8,619.5 1157.6,622.6 1158.3,625.5 1159.0,628.2 1159.8,630.8 1160.5,633.2 1161.2,635.5 1162.0,637.6 1162.7,639.6 1163.4,641.5 1164.2,643.2 1164.9,644.8 1165.6,646.2 1166.3,647.6 1167.1,648.8 1167.8,649.9 1168.5,650.9 1169.3,651.7 1170.0,652.5 1170.7,653.2 1171.5,653.8 1172.2,654.3 1172.9,654.7 1173.7,655.0 1174.4,655.3 1175.1,655.5 1175.8,655.6 1176.6,655.7 1177.3,655.7 1178.0,655.6 1178.8,655.5 1179.5,655.3 1180.2,655.1 1181.0,654.9 1181.7,654.6 1182.4,654.2 1183.2,653.9 1183.9,653.5 1184.6,653.1 1185.3,652.6 1186.1,652.2 1186.8,651.7 1187.5,651.2 1188.3,650.7 1189.0,650.1 1189.7,649.6 1190.5,649.0 1191.2,648.5 1191.9,647.9 1192.7,647.3 1193.4,646.8 1194.1,646.2 1194.8,645.6 1195.6,645.0 1196.3,644.4 1197.0,643.8 1197.8,643.2 1198.5,642.6 1199.2,642.0 1200.0,641.4 1200.7,640.8 1201.4,640.2 1202.2,639.6 1202.9,639.1 1203.6,638.5 1204.3,637.9 1205.1,637.3 1205.8,636.7 1206.5,636.1 1207.3,635.5 1208.0,635.0 1208.7,634.4 1209.5,633.8 1210.2,633.2 1210.9,632.7 1211.7,632.1 1212.4,631.5 1213.1,631.0 1213.8,630.4 1214.6,629.8 1215.3,629.3 1216.0,628.8 1216.8,628.2 1217.5,627.7 1218.2,627.2 1219.0,626.6 1219.7,626.1 1220.4,625.6 1221.2,625.2 1221.9,624.7 1222.6,624.2 1223.3,623.8 1224.1,623.4 1224.8,623.0 1225.5,622.6 1226.3,622.2 1227.0,621.9 1227.7,621.6 1228.5,621.3 1229.2,621.1 1229.9,620.9 1230.7,620.7 1231.4,620.6 1232.1,620.5 1232.8,620.5 1233.6,620.5 1234.3,620.6 1235.0,620.7 1235.8,620.8 1236.5,621.1 1237.2,621.4 1238.0,621.7 1238.7,622.1 1239.4,622.6 1240.2,623.2 1240.9,623.8 1241.6,624.6 1242.3,625.4 1243.1,626.2 1243.8,627.2 1244.5,628.3 1245.3,629.4 1246.0,630.7 1246.7,632.0 1247.5,633.5 1248.2,635.0 1248.9,636.7 1249.7,638.5 1250.4,640.3 1251.1,642.3 1251.8,644.4 1252.6,646.6 1253.3,648.9 1254.0,651.3 1254.8,653.8 1255.5,656.5 1256.2,659.2 1257.0,662.1 1257.7,665.1 1258.4,668.2 1259.2,671.4 1259.9,674.8 1260.6,678.2 1261.3,681.8 1262.1,685.4 1262.8,689.2 1263.5,693.1 1264.3,697.1 1265.0,701.1 1265.7,705.3 1266.5,709.6 1267.2,713.9 1267.9,718.4 1268.7,722.9 1269.4,727.5 1270.1,732.2 1270.8,736.9 1271.6,741.8 1272.3,746.6 1273.0,751.6 1273.8,756.5 1274.5,761.5 1275.2,766.6 1276.0,771.7 1276.7,776.7 1277.4,781.9 1278.2,787.0 1278.9,792.1 1279.6,797.2 1280.3,802.3 1281.1,807.4 1281.8,812.4 1282.5,817.4 1283.3,822.3 1284.0,827.2 1284.7,832.0 1285.5,836.8 1286.2,841.5 1286.9,846.0 1287.7,850.5 1288.4,854.9 1289.1,859.1 1289.8,863.2 1290.6,867.2 1291.3,871.0 1292.0,874.7 1292.8,878.2 1293.5,881.5 1294.2,884.6 1295.0,887.6 1295.7,890.3 1296.4,892.9 1297.2,895.2 1297.9,897.3 1298.6,899.2 1299.3,900.8 1300.1,902.2 1300.8,903.3 1301.5,904.1 1302.3,904.7 1303.0,905.0 1303.7,905.0 1304.5,904.8 1305.2,904.2 1305.9,903.3 1306.7,902.2 1307.4,900.7 1308.1,898.9 1308.9,896.8 1309.6,894.4 1310.3,891.6 1311.0,888.6 1311.8,885.2 1312.5,881.4 1313.2,877.4 1314.0,873.0 1314.7,868.3 1315.4,863.2 1316.2,857.9 1316.9,852.2 1317.6,846.1 1318.4,839.8 1319.1,833.1 1319.8,826.1 1320.5,818.9 1321.3,811.3 1322.0,803.4 1322.7,795.2 1323.5,786.7 1324.2,777.9 1324.9,768.8 1325.7,759.5 1326.4,749.9 1327.1,740.1 1327.9,730.0 1328.6,719.7 1329.3,709.2 1330.0,698.4 1330.8,687.5 1331.5,676.3 1332.2,665.0 1333.0,653.5 1333.7,641.8 1334.4,630.0 1335.2,618.1 1335.9,606.0 1336.6,593.9 1337.4,581.6 1338.1,569.3 1338.8,556.9 1339.5,544.4 1340.3,531.9 1341.0,519.4 1341.7,506.8 1342.5,494.3 1343.2,481.8 1343.9,469.3 1344.7,456.9 1345.4,444.5 1346.1,432.3 1346.9,420.1 1347.6,408.0 1348.3,396.0 1349.0,384.2 1349.8,372.5 1350.5,360.9 1351.2,349.6 1352.0,338.4 1352.7,327.5 1353.4,316.7 1354.2,306.2 1354.9,295.9 1355.6,285.9 1356.4,276.1 1357.1,266.6 1357.8,257.4 1358.5,248.5 1359.3,239.8 1360.0,231.5 1360.7,223.5 1361.5,215.9 1362.2,208.5 1362.9,201.6 1363.7,194.9 1364.4,188.7 1365.1,182.8 1365.9,177.2 1366.6,172.0 1367.3,167.3 1368.0,162.8 1368.8,158.8 1369.5,155.2 1370.2,151.9 1371.0,149.0 1371.7,146.6 1372.4,144.5 1373.2,142.8 1373.9,141.5 1374.6,140.5 1375.4,140.0 1376.1,139.8 1376.8,140.0 1377.5,140.6 1378.3,141.6 1379.0,142.9 1379.7,144.6 1380.5,146.7 1381.2,149.1 1381.9,151.8 1382.7,154.9 1383.4,158.3 1384.1,162.0 1384.9,166.1 1385.6,170.4 1386.3,175.1 1387.0,180.0 1387.8,185.2 1388.5,190.7 1389.2,196.4 1390.0,202.4 1390.7,208.7 1391.4,215.1 1392.2,221.8 1392.9,228.7 1393.6,235.8 1394.4,243.0 1395.1,250.5 1395.8,258.1 1396.5,265.9 1397.3,273.8 1398.0,281.8 1398.7,290.0 1399.5,298.3 1400.2,306.6 1400.9,315.1 1401.7,323.6 1402.4,332.3 1403.1,340.9 1403.9,349.6 1404.6,358.4 1405.3,367.2 1406.0,376.0 1406.8,384.8 1407.5,393.6 1408.2,402.4 1409.0,411.2 1409.7,419.9 1410.4,428.6 1411.2,437.3 1411.9,445.9 1412.6,454.5 1413.4,463.0 1414.1,471.5 1414.8,479.8 1415.5,488.1 1416.3,496.3 1417.0,504.4 1417.7,512.4 1418.5,520.3 1419.2,528.1 1419.9,535.7 1420.7,543.3 1421.4,550.7 1422.1,558.0 1422.9,565.2 1423.6,572.3 1424.3,579.2 1425.0,586.0 1425.8,592.7 1426.5,599.2 1427.2,605.6 1428.0,611.8 1428.7,617.9 1429.4,623.9 1430.2,629.7 1430.9,635.4 1431.6,641.0 1432.4,646.4 1433.1,651.6 1433.8,656.8 1434.5,661.8 1435.3,666.6 1436.0,671.3 1436.7,675.9 1437.5,680.4 1438.2,684.7 1438.9,688.9 1439.7,693.0 1440.4,696.9 1441.1,700.7 1441.9,704.4 1442.6,708.0 1443.3,711.4 1444.0,714.7 1444.8,717.9 1445.5,721.0 1446.2,724.0 1447.0,726.9 1447.7,729.7 1448.4,732.3 1449.2,734.9 1449.9,737.3 1450.6,739.7 1451.4,741.9 1452.1,744.1 1452.8,746.1 1453.5,748.1 1454.3,749.9 1455.0,751.7 1455.7,753.4 1456.5,755.0 1457.2,756.5 1457.9,757.9 1458.7,759.2 1459.4,760.4 1460.1,761.6 1460.9,762.6 1461.6,763.6 1462.3,764.5 1463.0,765.3 1463.8,766.0 1464.5,766.6 1465.2,767.2 1466.0,767.6 1466.7,768.0 1467.4,768.3 1468.2,768.5 1468.9,768.6 1469.6,768.7 1470.4,768.6 1471.1,768.5 1471.8,768.3 1472.5,768.0 1473.3,767.6 1474.0,767.2 1474.7,766.6 1475.5,766.0 1476.2,765.3 1476.9,764.5 1477.7,763.6 1478.4,762.6 1479.1,761.5 1479.9,760.4 1480.6,759.2 1481.3,757.9 1482.0,756.5 1482.8,755.0 1483.5,753.5 1484.2,751.8 1485.0,750.1 1485.7,748.3 1486.4,746.4 1487.2,744.5 1487.9,742.5 1488.6,740.4 1489.4,738.2 1490.1,736.0 1490.8,733.7 1491.6,731.3 1492.3,728.9 1493.0,726.4 1493.7,723.8 1494.5,721.2 1495.2,718.5 1495.9,715.8 1496.7,713.0 1497.4,710.2 1498.1,707.4 1498.9,704.5 1499.6,701.6 1500.3,698.6 1501.1,695.6 1501.8,692.6 1502.5,689.6 1503.2,686.6 1504.0,683.5 1504.7,680.5 1505.4,677.4 1506.2,674.4 1506.9,671.4 1507.6,668.3 1508.4,665.3 1509.1,662.4 1509.8,659.4 1510.6,656.5 1511.3,653.7 1512.0,650.8 1512.7,648.1 1513.5,645.4 1514.2,642.7 1514.9,640.1 1515.7,637.6 1516.4,635.2 1517.1,632.8 1517.9,630.5 1518.6,628.4 1519.3,626.3 1520.1,624.3 1520.8,622.5 1521.5,620.7 1522.2,619.1 1523.0,617.5 1523.7,616.2 1524.4,614.9 1525.2,613.8 1525.9,612.8 1526.6,611.9 1527.4,611.2 1528.1,610.7 1528.8,610.3 1529.6,610.0 1530.3,609.9 1531.0,610.0 1531.7,610.2 1532.5,610.6 1533.2,611.1 1533.9,611.9 1534.7,612.7 1535.4,613.8 1536.1,615.0 1536.9,616.4 1537.6,617.9 1538.3,619.6 1539.1,621.5 1539.8,623.5 1540.5,625.7 1541.2,628.1 1542.0,630.6 1542.7,633.3 1543.4,636.1 1544.2,639.1 1544.9,642.2 1545.6,645.5 1546.4,648.9 1547.1,652.4 1547.8,656.1 1548.6,659.8 1549.3,663.7 1550.0,667.7 1550.7,671.8 1551.5,676.0 1552.2,680.3 1552.9,684.7 1553.7,689.1 1554.4,693.7 1555.1,698.2 1555.9,702.9 1556.6,707.5 1557.3,712.2 1558.1,717.0 1558.8,721.7 1559.5,726.5 1560.2,731.2 1561.0,735.9 1561.7,740.6 1562.4,745.3 1563.2,750.0 1563.9,754.5 1564.6,759.1 1565.4,763.5 1566.1,767.9 1566.8,772.1 1567.6,776.3 1568.3,780.3 1569.0,784.3 1569.7,788.1 1570.5,791.7 1571.2,795.2 1571.9,798.5 1572.7,801.6 1573.4,804.6 1574.1,807.4 1574.9,809.9 1575.6,812.3 1576.3,814.4 1577.1,816.3 1577.8,818.0 1578.5,819.4 1579.2,820.5 1580.0,821.4 1580.7,822.0 1581.4,822.4 1582.2,822.5 1582.9,822.2 1583.6,821.7 1584.4,820.9 1585.1,819.8 1585.8,818.4 1586.6,816.7 1587.3,814.6 1588.0,812.3 1588.7,809.6 1589.5,806.6 1590.2,803.3 1590.9,799.6 1591.7,795.7 1592.4,791.4 1593.1,786.8 1593.9,781.9 1594.6,776.6 1595.3,771.0 1596.1,765.2 1596.8,759.0 1597.5,752.5 1598.2,745.7 1599.0,738.6 1599.7,731.3 1600.4,723.6 1601.2,715.7 1601.9,707.5 1602.6,699.0 1603.4,690.3 1604.1,681.3 1604.8,672.1 1605.6,662.7 1606.3,653.1 1607.0,643.2 1607.7,633.2 1608.5,623.0 1609.2,612.6 1609.9,602.0 1610.7,591.3 1611.4,580.5 1612.1,569.5 1612.9,558.4 1613.6,547.3 1614.3,536.0 1615.1,524.7 1615.8,513.3 1616.5,501.9 1617.2,490.4 1618.0,478.9 1618.7,467.5 1619.4,456.0 1620.2,444.6 1620.9,433.2 1621.6,421.8 1622.4,410.6 1623.1,399.4 1623.8,388.3 1624.6,377.3 1625.3,366.5 1626.0,355.7 1626.7,345.2 1627.5,334.8 1628.2,324.6 1628.9,314.5 1629.7,304.7 1630.4,295.1 1631.1,285.7 1631.9,276.5 1632.6,267.6 1633.3,259.0 1634.1,250.6 1634.8,242.5 1635.5,234.7 1636.2,227.1 1637.0,219.9 1637.7,213.0 1638.4,206.4 1639.2,200.1 1639.9,194.2 1640.6,188.6 1641.4,183.3 1642.1,178.4 1642.8,173.8 1643.6,169.6 1644.3,165.8 1645.0,162.3 1645.7,159.1 1646.5,156.4 1647.2,154.0 1647.9,151.9 1648.7,150.3 1649.4,148.9 1650.1,148.0 1650.9,147.4 1651.6,147.2 1652.3,147.4 1653.1,147.8 1653.8,148.7 1654.5,149.9 1655.2,151.4 1656.0,153.3 1656.7,155.5 1657.4,158.1 1658.2,160.9 1658.9,164.1 1659.6,167.6 1660.4,171.4 1661.1,175.5 1661.8,179.9 1662.6,184.6 1663.3,189.5 1664.0,194.7 1664.8,200.2 1665.5,205.9 1666.2,211.9 1666.9,218.1 1667.7,224.5 1668.4,231.1 1669.1,237.9 1669.9,245.0 1670.6,252.2 1671.3,259.6 1672.1,267.1 1672.8,274.8 1673.5,282.7 1674.3,290.7 1675.0,298.8 1675.7,307.0 1676.4,315.4 1677.2,323.9 1677.9,332.4 1678.6,341.0 1679.4,349.7 1680.1,358.5 1680.8,367.4 1681.6,376.2 1682.3,385.2 1683.0,394.1 1683.8,403.1 1684.5,412.1 1685.2,421.1 1685.9,430.1 1686.7,439.2 1687.4,448.2 1688.1,457.1 1688.9,466.1 1689.6,475.0 1690.3,484.0 1691.1,492.8 1691.8,501.6 1692.5,510.4 1693.3,519.1 1694.0,527.8 1694.7,536.4 1695.4,544.9 1696.2,553.3 1696.9,561.7 1697.6,570.0 1698.4,578.2 1699.1,586.3 1699.8,594.4 1700.6,602.3 1701.3,610.2 1702.0,618.0 1702.8,625.6 1703.5,633.2 1704.2,640.7 1704.9,648.0 1705.7,655.3 1706.4,662.4 1707.1,669.5 1707.9,676.4 1708.6,683.3 1709.3,690.0 1710.1,696.6 1710.8,703.1 1711.5,709.5 1712.3,715.8 1713.0,721.9 1713.7,728.0 1714.4,733.9 1715.2,739.7 1715.9,745.4 1716.6,751.0 1717.4,756.5 1718.1,761.9 1718.8,767.1 1719.6,772.3 1720.3,777.3 1721.0,782.2 1721.8,787.0 1722.5,791.6 1723.2,796.2 1723.9,800.6 1724.7,804.9 1725.4,809.1 1726.1,813.2 1726.9,817.1 1727.6,821.0 1728.3,824.7 1729.1,828.2 1729.8,831.7 1730.5,835.0 1731.3,838.2 1732.0,841.3 1732.7,844.2 1733.4,847.0 1734.2,849.7 1734.9,852.3 1735.6,854.7 1736.4,857.0 1737.1,859.1 1737.8,861.1 1738.6,863.0 1739.3,864.7 1740.0,866.3 1740.8,867.7 1741.5,869.0 1742.2,870.2 1742.9,871.2 1743.7,872.0 1744.4,872.7 1745.1,873.2 1745.9,873.6 1746.6,873.9 1747.3,874.0 1748.1,873.9 1748.8,873.7 1749.5,873.3 1750.3,872.7 1751.0,872.0 1751.7,871.2 1752.4,870.1 1753.2,868.9 1753.9,867.6 1754.6,866.1 1755.4,864.4 1756.1,862.6 1756.8,860.6 1757.6,858.5 1758.3,856.1 1759.0,853.7 1759.8,851.1 1760.5,848.3 1761.2,845.3 1761.9,842.3 1762.7,839.0 1763.4,835.6 1764.1,832.1 1764.9,828.4 1765.6,824.6 1766.3,820.7 1767.1,816.6 1767.8,812.4 1768.5,808.0 1769.3,803.5 1770.0,798.9 1770.7,794.2 1771.4,789.4 1772.2,784.5 1772.9,779.5 1773.6,774.3 1774.4,769.1 1775.1,763.8 1775.8,758.4 1776.6,752.9 1777.3,747.4 1778.0,741.8 1778.8,736.1 1779.5,730.4 1780.2,724.7 1780.9,718.9 1781.7,713.1 1782.4,707.2 1783.1,701.3 1783.9,695.5 1784.6,689.6 1785.3,683.7 1786.1,677.9 1786.8,672.0 1787.5,666.2 1788.3,660.4 1789.0,654.7 1789.7,649.0 1790.4,643.4 1791.2,637.8 1791.9,632.3 1792.6,626.9 1793.4,621.6 1794.1,616.4 1794.8,611.3 1795.6,606.3 1796.3,601.4 1797.0,596.6 1797.8,592.0 1798.5,587.5 1799.2,583.1 1799.9,578.9 1800.7,574.9 1801.4,571.0 1802.1,567.3 1802.9,563.8 1803.6,560.4 1804.3,557.2 1805.1,554.3 1805.8,551.5 1806.5,548.9 1807.3,546.5 1808.0,544.3 1808.7,542.4 1809.4,540.6 1810.2,539.1 1810.9,537.8 1811.6,536.7 1812.4,535.8 1813.1,535.1 1813.8,534.7 1814.6,534.5 1815.3,534.5 1816.0,534.8 1816.8,535.2 1817.5,535.9 1818.2,536.8 1818.9,538.0 1819.7,539.3 1820.4,540.9 1821.1,542.6 1821.9,544.6 1822.6,546.8 1823.3,549.1 1824.1,551.7 1824.8,554.4 1825.5,557.4 1826.3,560.5 1827.0,563.7 1827.7,567.2 1828.4,570.8 1829.2,574.5 1829.9,578.4 1830.6,582.4 1831.4,586.5 1832.1,590.8 1832.8,595.1 1833.6,599.6 1834.3,604.1 1835.0,608.7 1835.8,613.4 1836.5,618.1 1837.2,622.9 1837.9,627.7 1838.7,632.5 1839.4,637.4 1840.1,642.2 1840.9,647.1 1841.6,651.9 1842.3,656.7 1843.1,661.4 1843.8,666.1 1844.5,670.7 1845.3,675.3 1846.0,679.7 1846.7,684.1 1847.5,688.3 1848.2,692.4 1848.9,696.4 1849.6,700.2 1850.4,703.9 1851.1,707.5 1851.8,710.8 1852.6,714.0 1853.3,716.9 1854.0,719.7 1854.8,722.2 1855.5,724.5 1856.2,726.6 1857.0,728.5 1857.7,730.1 1858.4,731.5 1859.1,732.6 1859.9,733.4 1860.6,734.0 1861.3,734.2 1862.1,734.2 1862.8,733.9 1863.5,733.4 1864.3,732.5 1865.0,731.3 1865.7,729.8 1866.5,728.1 1867.2,726.0 1867.9,723.6 1868.6,720.9 1869.4,717.9 1870.1,714.6 1870.8,711.0 1871.6,707.1 1872.3,702.9 1873.0,698.4 1873.8,693.6 1874.5,688.5 1875.2,683.2 1876.0,677.5 1876.7,671.6 1877.4,665.5 1878.1,659.0 1878.9,652.3 1879.6,645.4 1880.3,638.2 1881.1,630.8 1881.8,623.2 1882.5,615.4 1883.3,607.3 1884.0,599.1 1884.7,590.7 1885.5,582.1 1886.2,573.4 1886.9,564.5 1887.6,555.5 1888.4,546.3 1889.1,537.1 1889.8,527.7 1890.6,518.2 1891.3,508.7 1892.0,499.1 1892.8,489.5 1893.5,479.8 1894.2,470.1 1895.0,460.4 1895.7,450.7 1896.4,441.1 1897.1,431.4 1897.9,421.8 1898.6,412.2 1899.3,402.8 1900.1,393.3 1900.8,384.0 1901.5,374.8 1902.3,365.7 1903.0,356.8 1903.7,348.0 1904.5,339.3 1905.2,330.8 1905.9,322.5 1906.6,314.3 1907.4,306.4 1908.1,298.7 1908.8,291.2 1909.6,283.9 1910.3,276.8 1911.0,270.0 1911.8,263.4 1912.5,257.1 1913.2,251.1 1914.0,245.4 1914.7,239.9 1915.4,234.7 1916.1,229.8 1916.9,225.2 1917.6,220.8 1918.3,216.8 1919.1,213.1 1919.8,209.8 1920.5,206.7 1921.3,203.9 1922.0,201.5 1922.7,199.4 1923.5,197.6 1924.2,196.1 1924.9,194.9 1925.6,194.1 1926.4,193.6 1927.1,193.4 1927.8,193.5 1928.6,193.9 1929.3,194.7 1930.0,195.7 1930.8,197.1 1931.5,198.7 1932.2,200.7 1933.0,202.9 1933.7,205.4 1934.4,208.3 1935.1,211.4 1935.9,214.7 1936.6,218.4 1937.3,222.3 1938.1,226.4 1938.8,230.8 1939.5,235.5 1940.3,240.3 1941.0,245.4 1941.7,250.8 1942.5,256.3 1943.2,262.1 1943.9,268.0 1944.6,274.2 1945.4,280.5 1946.1,287.0 1946.8,293.7 1947.6,300.5 1948.3,307.5 1949.0,314.7 1949.8,322.0 1950.5,329.4 1951.2,337.0 1952.0,344.6 1952.7,352.4 1953.4,360.3 1954.1,368.3 1954.9,376.3 1955.6,384.5 1956.3,392.7 1957.1,401.0 1957.8,409.4 1958.5,417.8 1959.3,426.3 1960.0,434.8 1960.7,443.3 1961.5,451.9 1962.2,460.6 1962.9,469.2 1963.6,477.9 1964.4,486.5 1965.1,495.2 1965.8,503.9 1966.6,512.6 1967.3,521.2 1968.0,529.9 1968.8,538.5 1969.5,547.2 1970.2,555.8 1971.0,564.3 1971.7,572.9 1972.4,581.4 1973.1,589.9 1973.9,598.3 1974.6,606.7 1975.3,615.1 1976.1,623.4 1976.8,631.6 1977.5,639.8 1978.3,648.0 1979.0,656.1 1979.7,664.1 1980.5,672.1 1981.2,680.0 1981.9,687.8 1982.6,695.6 1983.4,703.3 1984.1,710.9 1984.8,718.4 1985.6,725.9 1986.3,733.3 1987.0,740.6 1987.8,747.8 1988.5,755.0 1989.2,762.1 1990.0,769.0 1990.7,775.9 1991.4,782.7 1992.1,789.4 1992.9,796.0 1993.6,802.5 1994.3,808.9 1995.1,815.2 1995.8,821.4 1996.5,827.4 1997.3,833.4 1998.0,839.3 1998.7,845.0 1999.5,850.7 2000.2,856.2 2000.9,861.5 2001.6,866.8 2002.4,871.9 2003.1,876.9 2003.8,881.8 2004.6,886.5 2005.3,891.1 2006.0,895.6 2006.8,899.9 2007.5,904.0 2008.2,908.1 2009.0,911.9 2009.7,915.6 2010.4,919.1 2011.1,922.5 2011.9,925.7 2012.6,928.7 2013.3,931.6 2014.1,934.3 2014.8,936.8 2015.5,939.1 2016.3,941.2 2017.0,943.1 2017.7,944.9 2018.5,946.4 2019.2,947.8 2019.9,949.0 2020.6,949.9 2021.4,950.7 2022.1,951.2 2022.8,951.5 2023.6,951.7 2024.3,951.6 2025.0,951.2 2025.8,950.7 2026.5,950.0 2027.2,949.0 2028.0,947.8 2028.7,946.4 2029.4,944.8 2030.2,942.9 2030.9,940.8 2031.6,938.5 2032.3,936.0 2033.1,933.2 2033.8,930.3 2034.5,927.1 2035.3,923.6 2036.0,920.0 2036.7,916.1 2037.5,912.1 2038.2,907.8 2038.9,903.3 2039.7,898.5 2040.4,893.6 2041.1,888.5 2041.8,883.1 2042.6,877.6 2043.3,871.9 2044.0,866.0 2044.8,859.9 2045.5,853.6 2046.2,847.2 2047.0,840.6 2047.7,833.8 2048.4,826.8 2049.2,819.7 2049.9,812.5 2050.6,805.1 2051.3,797.6 2052.1,790.0 2052.8,782.3 2053.5,774.4 2054.3,766.4 2055.0,758.4 2055.7,750.3 2056.5,742.0 2057.2,733.8 2057.9,725.4 2058.7,717.0 2059.4,708.6 2060.1,700.1 2060.8,691.7 2061.6,683.2 2062.3,674.7 2063.0,666.2 2063.8,657.7 2064.5,649.2 2065.2,640.8 2066.0,632.4 2066.7,624.1 2067.4,615.9 2068.2,607.7 2068.9,599.6 2069.6,591.6 2070.3,583.7 2071.1,575.9 2071.8,568.3 2072.5,560.7 2073.3,553.4 2074.0,546.1 2074.7,539.0 2075.5,532.1 2076.2,525.4 2076.9,518.8 2077.7,512.5 2078.4,506.3 2079.1,500.4 2079.8,494.7 2080.6,489.1 2081.3,483.9 2082.0,478.8 2082.8,474.0 2083.5,469.5 2084.2,465.1 2085.0,461.1 2085.7,457.3 2086.4,453.8 2087.2,450.5 2087.9,447.5 2088.6,444.8 2089.3,442.4 2090.1,440.2 2090.8,438.3 2091.5,436.7 2092.3,435.4 2093.0,434.4 2093.7,433.6 2094.5,433.1 2095.2,432.9 2095.9,433.0 2096.7,433.4 2097.4,434.0 2098.1,434.9 2098.8,436.1 2099.6,437.5 2100.3,439.1 2101.0,441.1 2101.8,443.2 2102.5,445.6 2103.2,448.3 2104.0,451.1 2104.7,454.2 2105.4,457.5 2106.2,461.0 2106.9,464.7 2107.6,468.5 2108.3,472.6 2109.1,476.8 2109.8,481.2 2110.5,485.7 2111.3,490.3 2112.0,495.1 2112.7,500.0 2113.5,505.0 2114.2,510.1 2114.9,515.2 2115.7,520.4 2116.4,525.7 2117.1,531.1 2117.8,536.4 2118.6,541.8 2119.3,547.2 2120.0,552.6 2120.8,557.9 2121.5,563.3"/>
<path clip-path="url(#axclip)" stroke="#00f" stroke-width="8.6" stroke-linejoin="round" stroke-linecap="butt" d="M294.5 563.1 L295.5 570.4 L296.5 577.6 L297.5 584.6 L298.5 591.5 L299.5 598.2 L300.5 604.6 L301.5 610.8 L302.5 616.7 L303.5 622.3 L304.5 627.5 L305.5 632.5 L306.5 637.0 L307.5 641.1 L308.5 644.8 L309.5 648.1 L310.5 650.9 L311.5 653.2 L312.5 655.1 L313.5 656.4 L314.5 657.3 L315.5 657.6 L316.5 657.4 L317.5 656.7 L318.5 655.5 L319.5 653.7 L320.5 651.5 L321.5 648.7 L322.5 645.4 L323.5 641.5 L324.5 637.2 L325.5 632.4 L326.5 627.1 L327.5 621.4 L328.5 615.2 L329.5 608.6 L330.5 601.5 L331.5 594.1 L332.5 586.3 L333.5 578.2 L334.5 569.7 L335.5 561.0 L336.5 551.9 L337.5 542.7 L338.5 533.2 L339.5 523.5 L340.5 513.7 L341.5 503.7 L342.5 493.7 L343.5 483.5 L344.5 473.3 L345.5 463.1 L346.5 453.0 L347.5 442.8 L348.5 432.8 L349.5 422.8 L350.5 413.0 L351.5 403.3 L352.5 393.9 L353.5 384.6 L354.5 375.6 L355.5 366.8 L356.5 358.3 L357.5 350.1 L358.5 342.3 L359.5 334.7 L360.5 327.6 L361.5 320.8 L362.5 314.5 L363.5 308.5 L364.5 303.0 L365.5 297.9 L366.5 293.2 L367.5 289.0 L368.5 285.3 L369.5 282.0 L370.5 279.3 L371.5 277.0 L372.5 275.1 L373.5 273.8 L374.5 272.9 L375.5 272.6 L376.5 272.7 L377.5 273.2 L378.5 274.3 L379.5 275.8 L380.5 277.8 L381.5 280.2 L382.5 283.0 L383.5 286.3 L384.5 290.0 L385.5 294.2 L386.5 298.7 L387.5 303.6 L388.5 308.9 L389.5 314.6 L390.5 320.6 L391.5 326.9 L392.5 333.6 L393.5 340.5 L394.5 347.8 L395.5 355.4 L396.5 363.2 L397.5 371.3 L398.5 379.6 L399.5 388.1 L400.5 396.9 L401.5 405.9 L402.5 415.0 L403.5 424.4 L404.5 433.9 L405.5 443.5 L406.5 453.3 L407.5 463.2 L408.5 473.3 L409.5 483.4 L410.5 493.7 L411.5 504.0 L412.5 514.4 L413.5 524.9 L414.5 535.4 L415.5 546.1 L416.5 556.7 L417.5 567.4 L418.5 578.1 L419.5 588.8 L420.5 599.6 L421.5 610.4 L422.5 621.1 L423.5 631.9 L424.5 642.7 L425.5 653.4 L426.5 664.1 L427.5 674.8 L428.5 685.5 L429.5 696.1 L430.5 706.7 L431.5 717.2 L432.5 727.7 L433.5 738.1 L434.5 748.4 L435.5 758.6 L436.5 768.8 L437.5 778.9 L438.5 788.9 L439.5 798.7 L440.5 808.5 L441.5 818.1 L442.5 827.6 L443.5 837.0 L444.5 846.2 L445.5 855.2 L446.5 864.1 L447.5 872.8 L448.5 881.2 L449.5 889.5 L450.5 897.6 L451.5 905.5 L452.5 913.1 L453.5 920.5 L454.5 927.6 L455.5 934.4 L456.5 941.0 L457.5 947.2 L458.5 953.1 L459.5 958.8 L460.5 964.0 L461.5 969.0 L462.5 973.6 L463.5 977.8 L464.5 981.6 L465.5 985.0 L466.5 988.0 L467.5 990.6 L468.5 992.8 L469.5 994.5 L470.5 995.8 L471.5 996.6 L472.5 996.9 L473.5 996.8 L474.5 996.2 L475.5 995.0 L476.5 993.4 L477.5 991.3 L478.5 988.7 L479.5 985.6 L480.5 981.9 L481.5 977.8 L482.5 973.1 L483.5 968.0 L484.5 962.3 L485.5 956.1 L486.5 949.3 L487.5 942.1 L488.5 934.4 L489.5 926.3 L490.5 917.6 L491.5 908.5 L492.5 898.9 L493.5 888.8 L494.5 878.4 L495.5 867.5 L496.5 856.2 L497.5 844.6 L498.5 832.5 L499.5 820.2 L500.5 807.5 L501.5 794.5 L502.5 781.2 L503.5 767.6 L504.5 753.9 L505.5 739.9 L506.5 725.7 L507.5 711.4 L508.5 697.0 L509.5 682.5 L510.5 667.9 L511.5 653.2 L512.5 638.6 L513.5 623.9 L514.5 609.3 L515.5 594.8 L516.5 580.4 L517.5 566.2 L518.5 552.1 L519.5 538.2 L520.5 524.5 L521.5 511.1 L522.5 498.0 L523.5 485.2 L524.5 472.8 L525.5 460.7 L526.5 449.0 L527.5 437.7 L528.5 426.9 L529.5 416.5 L530.5 406.6 L531.5 397.3 L532.5 388.4 L533.5 380.1 L534.5 372.4 L535.5 365.2 L536.5 358.6 L537.5 352.6 L538.5 347.2 L539.5 342.5 L540.5 338.3 L541.5 334.8 L542.5 331.9 L543.5 329.6 L544.5 328.0 L545.5 326.9 L546.5 326.5 L547.5 326.7 L548.5 327.5 L549.5 328.9 L550.5 330.8 L551.5 333.3 L552.5 336.4 L553.5 340.0 L554.5 344.0 L555.5 348.6 L556.5 353.6 L557.5 359.1 L558.5 365.0 L559.5 371.3 L560.5 377.9 L561.5 384.9 L562.5 392.2 L563.5 399.7 L564.5 407.5 L565.5 415.5 L566.5 423.7 L567.5 432.0 L568.5 440.5 L569.5 449.0 L570.5 457.6 L571.5 466.2 L572.5 474.7 L573.5 483.3 L574.5 491.8 L575.5 500.1 L576.5 508.3 L577.5 516.4 L578.5 524.2 L579.5 531.9 L580.5 539.2 L581.5 546.4 L582.5 553.2 L583.5 559.7 L584.5 565.8 L585.5 571.6 L586.5 577.0 L587.5 582.0 L588.5 586.6 L589.5 590.8 L590.5 594.5 L591.5 597.9 L592.5 600.7 L593.5 603.1 L594.5 605.0 L595.5 606.5 L596.5 607.5 L597.5 608.0 L598.5 608.1 L599.5 607.7 L600.5 606.9 L601.5 605.6 L602.5 603.9 L603.5 601.7 L604.5 599.2 L605.5 596.2 L606.5 592.9 L607.5 589.2 L608.5 585.2 L609.5 580.8 L610.5 576.1 L611.5 571.1 L612.5 565.9 L613.5 560.4 L614.5 554.7 L615.5 548.8 L616.5 542.7 L617.5 536.4 L618.5 530.0 L619.5 523.6 L620.5 517.0 L621.5 510.4 L622.5 503.7 L623.5 497.0 L624.5 490.4 L625.5 483.8 L626.5 477.2 L627.5 470.7 L628.5 464.4 L629.5 458.1 L630.5 452.0 L631.5 446.0 L632.5 440.3 L633.5 434.7 L634.5 429.3 L635.5 424.2 L636.5 419.3 L637.5 414.7 L638.5 410.3 L639.5 406.2 L640.5 402.4 L641.5 398.9 L642.5 395.7 L643.5 392.9 L644.5 390.3 L645.5 388.1 L646.5 386.2 L647.5 384.6 L648.5 383.4 L649.5 382.5 L650.5 381.9 L651.5 381.7 L652.5 381.8 L653.5 382.2 L654.5 382.9 L655.5 384.0 L656.5 385.4 L657.5 387.1 L658.5 389.1 L659.5 391.5 L660.5 394.1 L661.5 397.0 L662.5 400.2 L663.5 403.6 L664.5 407.4 L665.5 411.3 L666.5 415.6 L667.5 420.1 L668.5 424.8 L669.5 429.7 L670.5 434.9 L671.5 440.3 L672.5 445.8 L673.5 451.6 L674.5 457.6 L675.5 463.7 L676.5 470.1 L677.5 476.6 L678.5 483.2 L679.5 490.0 L680.5 497.0 L681.5 504.1 L682.5 511.3 L683.5 518.7 L684.5 526.2 L685.5 533.8 L686.5 541.5 L687.5 549.4 L688.5 557.4 L689.5 565.4 L690.5 573.6 L691.5 581.9 L692.5 590.2 L693.5 598.7 L694.5 607.2 L695.5 615.8 L696.5 624.5 L697.5 633.3 L698.5 642.1 L699.5 651.0 L700.5 660.0 L701.5 669.0 L702.5 678.1 L703.5 687.3 L704.5 696.5 L705.5 705.7 L706.5 715.0 L707.5 724.3 L708.5 733.6 L709.5 742.9 L710.5 752.3 L711.5 761.6 L712.5 771.0 L713.5 780.3 L714.5 789.6 L715.5 798.9 L716.5 808.1 L717.5 817.3 L718.5 826.4 L719.5 835.5 L720.5 844.4 L721.5 853.3 L722.5 862.1 L723.5 870.7 L724.5 879.2 L725.5 887.5 L726.5 895.7 L727.5 903.7 L728.5 911.5 L729.5 919.1 L730.5 926.5 L731.5 933.6 L732.5 940.4 L733.5 947.0 L734.5 953.3 L735.5 959.3 L736.5 965.0 L737.5 970.3 L738.5 975.2 L739.5 979.8 L740.5 984.0 L741.5 987.8 L742.5 991.2 L743.5 994.1 L744.5 996.6 L745.5 998.6 L746.5 1000.1 L747.5 1001.2 L748.5 1001.7 L749.5 1001.7 L750.5 1001.2 L751.5 1000.2 L752.5 998.6 L753.5 996.5 L754.5 993.8 L755.5 990.5 L756.5 986.7 L757.5 982.3 L758.5 977.3 L759.5 971.8 L760.5 965.6 L761.5 958.9 L762.5 951.6 L763.5 943.8 L764.5 935.4 L765.5 926.4 L766.5 916.9 L767.5 906.9 L768.5 896.3 L769.5 885.2 L770.5 873.6 L771.5 861.5 L772.5 849.0 L773.5 836.0 L774.5 822.6 L775.5 808.8 L776.5 794.6 L777.5 780.0 L778.5 765.1 L779.5 749.9 L780.5 734.4 L781.5 718.7 L782.5 702.7 L783.5 686.6 L784.5 670.2 L785.5 653.8 L786.5 637.2 L787.5 620.6 L788.5 603.9 L789.5 587.3 L790.5 570.6 L791.5 554.1 L792.5 537.6 L793.5 521.3 L794.5 505.1 L795.5 489.1 L796.5 473.4 L797.5 458.0 L798.5 442.8 L799.5 428.0 L800.5 413.5 L801.5 399.5 L802.5 385.8 L803.5 372.6 L804.5 359.9 L805.5 347.7 L806.5 336.1 L807.5 324.9 L808.5 314.4 L809.5 304.4 L810.5 295.1 L811.5 286.4 L812.5 278.3 L813.5 270.9 L814.5 264.2 L815.5 258.1 L816.5 252.7 L817.5 248.1 L818.5 244.1 L819.5 240.8 L820.5 238.2 L821.5 236.3 L822.5 235.1 L823.5 234.6 L824.5 234.7 L825.5 235.5 L826.5 237.0 L827.5 239.1 L828.5 241.8 L829.5 245.2 L830.5 249.1 L831.5 253.6 L832.5 258.6 L833.5 264.2 L834.5 270.2 L835.5 276.7 L836.5 283.7 L837.5 291.1 L838.5 298.9 L839.5 307.0 L840.5 315.5 L841.5 324.2 L842.5 333.2 L843.5 342.5 L844.5 351.9 L845.5 361.5 L846.5 371.3 L847.5 381.1 L848.5 391.0 L849.5 401.0 L850.5 410.9 L851.5 420.9 L852.5 430.8 L853.5 440.6 L854.5 450.3 L855.5 459.8 L856.5 469.2 L857.5 478.4 L858.5 487.4 L859.5 496.2 L860.5 504.7 L861.5 512.9 L862.5 520.8 L863.5 528.4 L864.5 535.7 L865.5 542.6 L866.5 549.2 L867.5 555.4 L868.5 561.2 L869.5 566.7 L870.5 571.7 L871.5 576.4 L872.5 580.6 L873.5 584.5 L874.5 588.0 L875.5 591.0 L876.5 593.7 L877.5 596.0 L878.5 597.9 L879.5 599.4 L880.5 600.6 L881.5 601.4 L882.5 601.8 L883.5 602.0 L884.5 601.8 L885.5 601.3 L886.5 600.4 L887.5 599.4 L888.5 598.0 L889.5 596.4 L890.5 594.6 L891.5 592.5 L892.5 590.3 L893.5 587.9 L894.5 585.3 L895.5 582.6 L896.5 579.7 L897.5 576.8 L898.5 573.7 L899.5 570.6 L900.5 567.5 L901.5 564.3 L902.5 561.0 L903.5 557.8 L904.5 554.6 L905.5 551.3 L906.5 548.2 L907.5 545.1 L908.5 542.0 L909.5 539.0 L910.5 536.1 L911.5 533.4 L912.5 530.7 L913.5 528.1 L914.5 525.7 L915.5 523.4 L916.5 521.2 L917.5 519.2 L918.5 517.3 L919.5 515.6 L920.5 514.1 L921.5 512.7 L922.5 511.4 L923.5 510.4 L924.5 509.5 L925.5 508.8 L926.5 508.2 L927.5 507.9 L928.5 507.7 L929.5 507.6 L930.5 507.8 L931.5 508.1 L932.5 508.5 L933.5 509.1 L934.5 509.9 L935.5 510.9 L936.5 511.9 L937.5 513.2 L938.5 514.6 L939.5 516.1 L940.5 517.8 L941.5 519.6 L942.5 521.6 L943.5 523.6 L944.5 525.9 L945.5 528.2 L946.5 530.7 L947.5 533.3 L948.5 536.0 L949.5 538.9 L950.5 541.8 L951.5 544.9 L952.5 548.1 L953.5 551.5 L954.5 554.9 L955.5 558.5 L956.5 562.2 L957.5 566.0 L958.5 569.9 L959.5 574.0 L960.5 578.2 L961.5 582.5 L962.5 586.9 L963.5 591.5 L964.5 596.1 L965.5 600.9 L966.5 605.9 L967.5 611.0 L968.5 616.2 L969.5 621.5 L970.5 627.0 L971.5 632.6 L972.5 638.4 L973.5 644.2 L974.5 650.3 L975.5 656.4 L976.5 662.7 L977.5 669.2 L978.5 675.7 L979.5 682.4 L980.5 689.3 L981.5 696.2 L982.5 703.3 L983.5 710.5 L984.5 717.8 L985.5 725.3 L986.5 732.8 L987.5 740.4 L988.5 748.1 L989.5 755.9 L990.5 763.8 L991.5 771.7 L992.5 779.6 L993.5 787.7 L994.5 795.7 L995.5 803.8 L996.5 811.8 L997.5 819.9 L998.5 827.9 L999.5 835.9 L1000.5 843.8 L1001.5 851.7 L1002.5 859.4 L1003.5 867.1 L1004.5 874.6 L1005.5 882.0 L1006.5 889.3 L1007.5 896.3 L1008.5 903.2 L1009.5 909.8 L1010.5 916.2 L1011.5 922.3 L1012.5 928.1 L1013.5 933.7 L1014.5 938.9 L1015.5 943.8 L1016.5 948.3 L1017.5 952.5 L1018.5 956.2 L1019.5 959.6 L1020.5 962.5 L1021.5 964.9 L1022.5 966.9 L1023.5 968.3 L1024.5 969.3 L1025.5 969.8 L1026.5 969.7 L1027.5 969.1 L1028.5 967.9 L1029.5 966.2 L1030.5 963.8 L1031.5 960.9 L1032.5 957.4 L1033.5 953.3 L1034.5 948.6 L1035.5 943.2 L1036.5 937.3 L1037.5 930.7 L1038.5 923.6 L1039.5 915.8 L1040.5 907.4 L1041.5 898.5 L1042.5 888.9 L1043.5 878.8 L1044.5 868.1 L1045.5 856.8 L1046.5 845.0 L1047.5 832.6 L1048.5 819.8 L1049.5 806.4 L1050.5 792.6 L1051.5 778.3 L1052.5 763.7 L1053.5 748.6 L1054.5 733.1 L1055.5 717.3 L1056.5 701.1 L1057.5 684.7 L1058.5 668.0 L1059.5 651.1 L1060.5 634.0 L1061.5 616.8 L1062.5 599.4 L1063.5 581.9 L1064.5 564.3 L1065.5 546.8 L1066.5 529.2 L1067.5 511.7 L1068.5 494.3 L1069.5 477.1 L1070.5 460.0 L1071.5 443.1 L1072.5 426.4 L1073.5 410.0 L1074.5 393.9 L1075.5 378.1 L1076.5 362.7 L1077.5 347.7 L1078.5 333.2 L1079.5 319.1 L1080.5 305.5 L1081.5 292.4 L1082.5 279.9 L1083.5 268.0 L1084.5 256.7 L1085.5 245.9 L1086.5 235.9 L1087.5 226.4 L1088.5 217.7 L1089.5 209.6 L1090.5 202.3 L1091.5 195.6 L1092.5 189.7 L1093.5 184.5 L1094.5 180.0 L1095.5 176.3 L1096.5 173.3 L1097.5 171.1 L1098.5 169.5 L1099.5 168.7 L1100.5 168.6 L1101.5 169.2 L1102.5 170.6 L1103.5 172.6 L1104.5 175.2 L1105.5 178.5 L1106.5 182.5 L1107.5 187.1 L1108.5 192.2 L1109.5 198.0 L1110.5 204.2 L1111.5 211.0 L1112.5 218.3 L1113.5 226.1 L1114.5 234.3 L1115.5 242.9 L1116.5 251.9 L1117.5 261.3 L1118.5 271.0 L1119.5 281.0 L1120.5 291.2 L1121.5 301.7 L1122.5 312.3 L1123.5 323.2 L1124.5 334.1 L1125.5 345.2 L1126.5 356.4 L1127.5 367.6 L1128.5 378.8 L1129.5 390.1 L1130.5 401.2 L1131.5 412.4 L1132.5 423.4 L1133.5 434.4 L1134.5 445.2 L1135.5 455.8 L1136.5 466.3 L1137.5 476.5 L1138.5 486.6 L1139.5 496.4 L1140.5 506.0 L1141.5 515.3 L1142.5 524.4 L1143.5 533.1 L1144.5 541.6 L1145.5 549.8 L1146.5 557.6 L1147.5 565.1 L1148.5 572.3 L1149.5 579.2 L1150.5 585.8 L1151.5 592.0 L1152.5 597.9 L1153.5 603.4 L1154.5 608.7 L1155.5 613.6 L1156.5 618.2 L1157.5 622.5 L1158.5 626.4 L1159.5 630.1 L1160.5 633.5 L1161.5 636.6 L1162.5 639.4 L1163.5 642.0 L1164.5 644.3 L1165.5 646.4 L1166.5 648.2 L1167.5 649.8 L1168.5 651.2 L1169.5 652.4 L1170.5 653.4 L1171.5 654.2 L1172.5 654.9 L1173.5 655.4 L1174.5 655.7 L1175.5 656.0 L1176.5 656.1 L1177.5 656.1 L1178.5 655.9 L1179.5 655.7 L1180.5 655.4 L1181.5 655.0 L1182.5 654.6 L1183.5 654.1 L1184.5 653.5 L1185.5 652.9 L1186.5 652.3 L1187.5 651.6 L1188.5 650.9 L1189.5 650.1 L1190.5 649.4 L1191.5 648.6 L1192.5 647.8 L1193.5 647.0 L1194.5 646.2 L1195.5 645.4 L1196.5 644.6 L1197.5 643.8 L1198.5 642.9 L1199.5 642.1 L1200.5 641.3 L1201.5 640.5 L1202.5 639.7 L1203.5 638.9 L1204.5 638.1 L1205.5 637.3 L1206.5 636.4 L1207.5 635.6 L1208.5 634.9 L1209.5 634.1 L1210.5 633.3 L1211.5 632.5 L1212.5 631.7 L1213.5 630.9 L1214.5 630.2 L1215.5 629.4 L1216.5 628.7 L1217.5 627.9 L1218.5 627.2 L1219.5 626.5 L1220.5 625.8 L1221.5 625.2 L1222.5 624.5 L1223.5 623.9 L1224.5 623.3 L1225.5 622.8 L1226.5 622.3 L1227.5 621.9 L1228.5 621.5 L1229.5 621.2 L1230.5 621.0 L1231.5 620.8 L1232.5 620.7 L1233.5 620.7 L1234.5 620.8 L1235.5 621.0 L1236.5 621.3 L1237.5 621.7 L1238.5 622.2 L1239.5 622.9 L1240.5 623.7 L1241.5 624.7 L1242.5 625.8 L1243.5 627.0 L1244.5 628.5 L1245.5 630.1 L1246.5 631.9 L1247.5 633.8 L1248.5 636.0 L1249.5 638.4 L1250.5 640.9 L1251.5 643.7 L1252.5 646.7 L1253.5 649.9 L1254.5 653.3 L1255.5 656.9 L1256.5 660.7 L1257.5 664.8 L1258.5 669.0 L1259.5 673.5 L1260.5 678.2 L1261.5 683.1 L1262.5 688.2 L1263.5 693.5 L1264.5 699.0 L1265.5 704.7 L1266.5 710.5 L1267.5 716.6 L1268.5 722.7 L1269.5 729.1 L1270.5 735.6 L1271.5 742.2 L1272.5 748.9 L1273.5 755.7 L1274.5 762.6 L1275.5 769.5 L1276.5 776.5 L1277.5 783.6 L1278.5 790.6 L1279.5 797.6 L1280.5 804.6 L1281.5 811.6 L1282.5 818.5 L1283.5 825.3 L1284.5 832.0 L1285.5 838.5 L1286.5 844.9 L1287.5 851.1 L1288.5 857.1 L1289.5 862.9 L1290.5 868.4 L1291.5 873.7 L1292.5 878.6 L1293.5 883.3 L1294.5 887.5 L1295.5 891.4 L1296.5 895.0 L1297.5 898.1 L1298.5 900.8 L1299.5 903.0 L1300.5 904.7 L1301.5 906.0 L1302.5 906.7 L1303.5 907.0 L1304.5 906.7 L1305.5 905.8 L1306.5 904.4 L1307.5 902.3 L1308.5 899.7 L1309.5 896.5 L1310.5 892.7 L1311.5 888.3 L1312.5 883.2 L1313.5 877.6 L1314.5 871.3 L1315.5 864.4 L1316.5 856.9 L1317.5 848.7 L1318.5 840.0 L1319.5 830.6 L1320.5 820.7 L1321.5 810.2 L1322.5 799.1 L1323.5 787.5 L1324.5 775.3 L1325.5 762.6 L1326.5 749.4 L1327.5 735.8 L1328.5 721.7 L1329.5 707.2 L1330.5 692.2 L1331.5 676.9 L1332.5 661.3 L1333.5 645.4 L1334.5 629.1 L1335.5 612.6 L1336.5 595.9 L1337.5 579.1 L1338.5 562.0 L1339.5 544.9 L1340.5 527.7 L1341.5 510.4 L1342.5 493.2 L1343.5 476.0 L1344.5 458.8 L1345.5 441.8 L1346.5 424.9 L1347.5 408.3 L1348.5 391.8 L1349.5 375.6 L1350.5 359.7 L1351.5 344.1 L1352.5 328.9 L1353.5 314.0 L1354.5 299.6 L1355.5 285.7 L1356.5 272.3 L1357.5 259.3 L1358.5 247.0 L1359.5 235.1 L1360.5 223.9 L1361.5 213.3 L1362.5 203.3 L1363.5 194.0 L1364.5 185.3 L1365.5 177.4 L1366.5 170.1 L1367.5 163.6 L1368.5 157.7 L1369.5 152.6 L1370.5 148.2 L1371.5 144.5 L1372.5 141.6 L1373.5 139.4 L1374.5 138.0 L1375.5 137.2 L1376.5 137.2 L1377.5 137.9 L1378.5 139.3 L1379.5 141.4 L1380.5 144.1 L1381.5 147.5 L1382.5 151.6 L1383.5 156.2 L1384.5 161.5 L1385.5 167.4 L1386.5 173.8 L1387.5 180.8 L1388.5 188.2 L1389.5 196.2 L1390.5 204.6 L1391.5 213.5 L1392.5 222.8 L1393.5 232.4 L1394.5 242.4 L1395.5 252.8 L1396.5 263.4 L1397.5 274.3 L1398.5 285.5 L1399.5 296.9 L1400.5 308.4 L1401.5 320.1 L1402.5 332.0 L1403.5 343.9 L1404.5 356.0 L1405.5 368.1 L1406.5 380.2 L1407.5 392.3 L1408.5 404.4 L1409.5 416.5 L1410.5 428.5 L1411.5 440.4 L1412.5 452.3 L1413.5 464.0 L1414.5 475.5 L1415.5 487.0 L1416.5 498.2 L1417.5 509.3 L1418.5 520.2 L1419.5 530.9 L1420.5 541.3 L1421.5 551.6 L1422.5 561.6 L1423.5 571.4 L1424.5 580.9 L1425.5 590.2 L1426.5 599.2 L1427.5 607.9 L1428.5 616.4 L1429.5 624.7 L1430.5 632.6 L1431.5 640.3 L1432.5 647.8 L1433.5 655.0 L1434.5 661.9 L1435.5 668.6 L1436.5 675.0 L1437.5 681.1 L1438.5 687.0 L1439.5 692.7 L1440.5 698.1 L1441.5 703.3 L1442.5 708.3 L1443.5 713.0 L1444.5 717.5 L1445.5 721.8 L1446.5 725.9 L1447.5 729.8 L1448.5 733.4 L1449.5 736.9 L1450.5 740.2 L1451.5 743.3 L1452.5 746.2 L1453.5 748.9 L1454.5 751.5 L1455.5 753.8 L1456.5 756.0 L1457.5 758.1 L1458.5 759.9 L1459.5 761.6 L1460.5 763.2 L1461.5 764.5 L1462.5 765.7 L1463.5 766.8 L1464.5 767.7 L1465.5 768.4 L1466.5 769.0 L1467.5 769.4 L1468.5 769.7 L1469.5 769.8 L1470.5 769.7 L1471.5 769.5 L1472.5 769.1 L1473.5 768.6 L1474.5 767.9 L1475.5 767.0 L1476.5 766.0 L1477.5 764.8 L1478.5 763.5 L1479.5 762.0 L1480.5 760.4 L1481.5 758.6 L1482.5 756.6 L1483.5 754.5 L1484.5 752.2 L1485.5 749.8 L1486.5 747.2 L1487.5 744.5 L1488.5 741.7 L1489.5 738.7 L1490.5 735.6 L1491.5 732.3 L1492.5 729.0 L1493.5 725.5 L1494.5 721.9 L1495.5 718.2 L1496.5 714.4 L1497.5 710.6 L1498.5 706.6 L1499.5 702.6 L1500.5 698.5 L1501.5 694.4 L1502.5 690.3 L1503.5 686.1 L1504.5 681.9 L1505.5 677.7 L1506.5 673.5 L1507.5 669.4 L1508.5 665.2 L1509.5 661.2 L1510.5 657.1 L1511.5 653.2 L1512.5 649.4 L1513.5 645.6 L1514.5 642.0 L1515.5 638.5 L1516.5 635.1 L1517.5 631.9 L1518.5 628.9 L1519.5 626.0 L1520.5 623.4 L1521.5 620.9 L1522.5 618.7 L1523.5 616.7 L1524.5 615.0 L1525.5 613.5 L1526.5 612.2 L1527.5 611.3 L1528.5 610.6 L1529.5 610.2 L1530.5 610.1 L1531.5 610.2 L1532.5 610.7 L1533.5 611.6 L1534.5 612.7 L1535.5 614.1 L1536.5 615.8 L1537.5 617.9 L1538.5 620.3 L1539.5 622.9 L1540.5 625.9 L1541.5 629.2 L1542.5 632.8 L1543.5 636.7 L1544.5 640.8 L1545.5 645.2 L1546.5 649.9 L1547.5 654.8 L1548.5 660.0 L1549.5 665.4 L1550.5 670.9 L1551.5 676.7 L1552.5 682.6 L1553.5 688.7 L1554.5 694.9 L1555.5 701.3 L1556.5 707.7 L1557.5 714.1 L1558.5 720.7 L1559.5 727.2 L1560.5 733.7 L1561.5 740.2 L1562.5 746.7 L1563.5 753.0 L1564.5 759.3 L1565.5 765.4 L1566.5 771.4 L1567.5 777.1 L1568.5 782.7 L1569.5 788.0 L1570.5 793.0 L1571.5 797.8 L1572.5 802.2 L1573.5 806.3 L1574.5 810.0 L1575.5 813.3 L1576.5 816.3 L1577.5 818.7 L1578.5 820.7 L1579.5 822.3 L1580.5 823.3 L1581.5 823.8 L1582.5 823.8 L1583.5 823.3 L1584.5 822.1 L1585.5 820.5 L1586.5 818.2 L1587.5 815.3 L1588.5 811.9 L1589.5 807.8 L1590.5 803.2 L1591.5 797.9 L1592.5 792.0 L1593.5 785.5 L1594.5 778.4 L1595.5 770.8 L1596.5 762.5 L1597.5 753.6 L1598.5 744.2 L1599.5 734.3 L1600.5 723.8 L1601.5 712.8 L1602.5 701.2 L1603.5 689.3 L1604.5 676.8 L1605.5 663.9 L1606.5 650.6 L1607.5 636.9 L1608.5 622.9 L1609.5 608.5 L1610.5 593.9 L1611.5 579.0 L1612.5 563.8 L1613.5 548.5 L1614.5 533.0 L1615.5 517.3 L1616.5 501.6 L1617.5 485.8 L1618.5 470.0 L1619.5 454.3 L1620.5 438.5 L1621.5 422.9 L1622.5 407.4 L1623.5 392.0 L1624.5 376.9 L1625.5 362.0 L1626.5 347.3 L1627.5 333.0 L1628.5 319.0 L1629.5 305.3 L1630.5 292.0 L1631.5 279.2 L1632.5 266.8 L1633.5 255.0 L1634.5 243.6 L1635.5 232.7 L1636.5 222.4 L1637.5 212.7 L1638.5 203.6 L1639.5 195.1 L1640.5 187.2 L1641.5 179.9 L1642.5 173.3 L1643.5 167.4 L1644.5 162.2 L1645.5 157.6 L1646.5 153.7 L1647.5 150.5 L1648.5 148.0 L1649.5 146.2 L1650.5 145.0 L1651.5 144.6 L1652.5 144.8 L1653.5 145.7 L1654.5 147.2 L1655.5 149.4 L1656.5 152.2 L1657.5 155.7 L1658.5 159.8 L1659.5 164.4 L1660.5 169.7 L1661.5 175.4 L1662.5 181.8 L1663.5 188.6 L1664.5 196.0 L1665.5 203.8 L1666.5 212.0 L1667.5 220.7 L1668.5 229.8 L1669.5 239.3 L1670.5 249.2 L1671.5 259.4 L1672.5 269.8 L1673.5 280.6 L1674.5 291.7 L1675.5 302.9 L1676.5 314.4 L1677.5 326.1 L1678.5 337.9 L1679.5 349.9 L1680.5 362.0 L1681.5 374.2 L1682.5 386.5 L1683.5 398.9 L1684.5 411.3 L1685.5 423.7 L1686.5 436.1 L1687.5 448.5 L1688.5 460.9 L1689.5 473.2 L1690.5 485.4 L1691.5 497.6 L1692.5 509.7 L1693.5 521.7 L1694.5 533.5 L1695.5 545.3 L1696.5 556.9 L1697.5 568.3 L1698.5 579.7 L1699.5 590.8 L1700.5 601.8 L1701.5 612.6 L1702.5 623.2 L1703.5 633.6 L1704.5 643.9 L1705.5 653.9 L1706.5 663.8 L1707.5 673.5 L1708.5 682.9 L1709.5 692.2 L1710.5 701.2 L1711.5 710.0 L1712.5 718.6 L1713.5 727.1 L1714.5 735.2 L1715.5 743.2 L1716.5 751.0 L1717.5 758.5 L1718.5 765.9 L1719.5 773.0 L1720.5 779.9 L1721.5 786.5 L1722.5 793.0 L1723.5 799.2 L1724.5 805.2 L1725.5 811.0 L1726.5 816.5 L1727.5 821.9 L1728.5 826.9 L1729.5 831.8 L1730.5 836.4 L1731.5 840.8 L1732.5 844.9 L1733.5 848.8 L1734.5 852.5 L1735.5 855.9 L1736.5 859.0 L1737.5 861.9 L1738.5 864.5 L1739.5 866.8 L1740.5 868.9 L1741.5 870.7 L1742.5 872.3 L1743.5 873.5 L1744.5 874.5 L1745.5 875.2 L1746.5 875.6 L1747.5 875.7 L1748.5 875.5 L1749.5 875.0 L1750.5 874.2 L1751.5 873.1 L1752.5 871.8 L1753.5 870.1 L1754.5 868.1 L1755.5 865.8 L1756.5 863.2 L1757.5 860.3 L1758.5 857.1 L1759.5 853.6 L1760.5 849.8 L1761.5 845.7 L1762.5 841.3 L1763.5 836.7 L1764.5 831.8 L1765.5 826.6 L1766.5 821.1 L1767.5 815.4 L1768.5 809.5 L1769.5 803.3 L1770.5 796.9 L1771.5 790.3 L1772.5 783.5 L1773.5 776.4 L1774.5 769.3 L1775.5 761.9 L1776.5 754.4 L1777.5 746.8 L1778.5 739.0 L1779.5 731.2 L1780.5 723.2 L1781.5 715.2 L1782.5 707.2 L1783.5 699.1 L1784.5 691.0 L1785.5 682.9 L1786.5 674.9 L1787.5 666.9 L1788.5 658.9 L1789.5 651.1 L1790.5 643.3 L1791.5 635.7 L1792.5 628.2 L1793.5 620.9 L1794.5 613.7 L1795.5 606.8 L1796.5 600.1 L1797.5 593.6 L1798.5 587.4 L1799.5 581.4 L1800.5 575.8 L1801.5 570.4 L1802.5 565.4 L1803.5 560.7 L1804.5 556.3 L1805.5 552.4 L1806.5 548.7 L1807.5 545.5 L1808.5 542.7 L1809.5 540.2 L1810.5 538.2 L1811.5 536.6 L1812.5 535.4 L1813.5 534.6 L1814.5 534.2 L1815.5 534.3 L1816.5 534.7 L1817.5 535.6 L1818.5 536.9 L1819.5 538.7 L1820.5 540.8 L1821.5 543.3 L1822.5 546.2 L1823.5 549.5 L1824.5 553.1 L1825.5 557.1 L1826.5 561.4 L1827.5 566.0 L1828.5 570.9 L1829.5 576.1 L1830.5 581.6 L1831.5 587.3 L1832.5 593.2 L1833.5 599.2 L1834.5 605.5 L1835.5 611.9 L1836.5 618.4 L1837.5 625.0 L1838.5 631.6 L1839.5 638.3 L1840.5 644.9 L1841.5 651.6 L1842.5 658.2 L1843.5 664.7 L1844.5 671.1 L1845.5 677.3 L1846.5 683.3 L1847.5 689.2 L1848.5 694.8 L1849.5 700.2 L1850.5 705.3 L1851.5 710.0 L1852.5 714.4 L1853.5 718.5 L1854.5 722.2 L1855.5 725.4 L1856.5 728.2 L1857.5 730.6 L1858.5 732.5 L1859.5 733.9 L1860.5 734.8 L1861.5 735.1 L1862.5 735.0 L1863.5 734.3 L1864.5 733.0 L1865.5 731.2 L1866.5 728.8 L1867.5 725.8 L1868.5 722.3 L1869.5 718.1 L1870.5 713.5 L1871.5 708.2 L1872.5 702.4 L1873.5 696.0 L1874.5 689.1 L1875.5 681.6 L1876.5 673.7 L1877.5 665.2 L1878.5 656.2 L1879.5 646.8 L1880.5 636.9 L1881.5 626.6 L1882.5 615.8 L1883.5 604.7 L1884.5 593.3 L1885.5 581.5 L1886.5 569.4 L1887.5 557.1 L1888.5 544.5 L1889.5 531.7 L1890.5 518.7 L1891.5 505.6 L1892.5 492.4 L1893.5 479.1 L1894.5 465.7 L1895.5 452.4 L1896.5 439.0 L1897.5 425.8 L1898.5 412.6 L1899.5 399.5 L1900.5 386.6 L1901.5 373.9 L1902.5 361.4 L1903.5 349.2 L1904.5 337.2 L1905.5 325.6 L1906.5 314.3 L1907.5 303.4 L1908.5 292.8 L1909.5 282.7 L1910.5 273.0 L1911.5 263.8 L1912.5 255.1 L1913.5 246.8 L1914.5 239.1 L1915.5 231.9 L1916.5 225.3 L1917.5 219.2 L1918.5 213.7 L1919.5 208.8 L1920.5 204.5 L1921.5 200.8 L1922.5 197.6 L1923.5 195.1 L1924.5 193.2 L1925.5 191.9 L1926.5 191.1 L1927.5 191.0 L1928.5 191.5 L1929.5 192.5 L1930.5 194.2 L1931.5 196.4 L1932.5 199.1 L1933.5 202.5 L1934.5 206.3 L1935.5 210.7 L1936.5 215.6 L1937.5 221.0 L1938.5 226.8 L1939.5 233.1 L1940.5 239.9 L1941.5 247.1 L1942.5 254.7 L1943.5 262.7 L1944.5 271.0 L1945.5 279.7 L1946.5 288.8 L1947.5 298.1 L1948.5 307.8 L1949.5 317.7 L1950.5 327.9 L1951.5 338.3 L1952.5 349.0 L1953.5 359.8 L1954.5 370.9 L1955.5 382.0 L1956.5 393.4 L1957.5 404.8 L1958.5 416.4 L1959.5 428.1 L1960.5 439.8 L1961.5 451.7 L1962.5 463.5 L1963.5 475.4 L1964.5 487.4 L1965.5 499.3 L1966.5 511.3 L1967.5 523.2 L1968.5 535.1 L1969.5 547.0 L1970.5 558.8 L1971.5 570.6 L1972.5 582.3 L1973.5 594.0 L1974.5 605.6 L1975.5 617.1 L1976.5 628.5 L1977.5 639.8 L1978.5 651.0 L1979.5 662.1 L1980.5 673.1 L1981.5 683.9 L1982.5 694.7 L1983.5 705.2 L1984.5 715.7 L1985.5 726.0 L1986.5 736.2 L1987.5 746.2 L1988.5 756.1 L1989.5 765.8 L1990.5 775.3 L1991.5 784.6 L1992.5 793.8 L1993.5 802.8 L1994.5 811.6 L1995.5 820.2 L1996.5 828.6 L1997.5 836.8 L1998.5 844.8 L1999.5 852.6 L2000.5 860.1 L2001.5 867.4 L2002.5 874.5 L2003.5 881.3 L2004.5 887.9 L2005.5 894.2 L2006.5 900.2 L2007.5 906.0 L2008.5 911.5 L2009.5 916.6 L2010.5 921.5 L2011.5 926.1 L2012.5 930.3 L2013.5 934.3 L2014.5 937.8 L2015.5 941.1 L2016.5 944.0 L2017.5 946.5 L2018.5 948.7 L2019.5 950.5 L2020.5 951.9 L2021.5 953.0 L2022.5 953.6 L2023.5 953.8 L2024.5 953.7 L2025.5 953.1 L2026.5 952.2 L2027.5 950.8 L2028.5 949.0 L2029.5 946.7 L2030.5 944.1 L2031.5 941.0 L2032.5 937.5 L2033.5 933.6 L2034.5 929.3 L2035.5 924.5 L2036.5 919.3 L2037.5 913.8 L2038.5 907.8 L2039.5 901.4 L2040.5 894.6 L2041.5 887.5 L2042.5 879.9 L2043.5 872.0 L2044.5 863.8 L2045.5 855.2 L2046.5 846.3 L2047.5 837.0 L2048.5 827.5 L2049.5 817.7 L2050.5 807.6 L2051.5 797.3 L2052.5 786.7 L2053.5 775.9 L2054.5 764.9 L2055.5 753.8 L2056.5 742.5 L2057.5 731.1 L2058.5 719.6 L2059.5 708.0 L2060.5 696.3 L2061.5 684.6 L2062.5 672.9 L2063.5 661.2 L2064.5 649.6 L2065.5 638.0 L2066.5 626.5 L2067.5 615.2 L2068.5 603.9 L2069.5 592.9 L2070.5 582.0 L2071.5 571.4 L2072.5 561.0 L2073.5 550.8 L2074.5 541.0 L2075.5 531.4 L2076.5 522.2 L2077.5 513.4 L2078.5 504.9 L2079.5 496.8 L2080.5 489.1 L2081.5 481.9 L2082.5 475.1 L2083.5 468.7 L2084.5 462.9 L2085.5 457.5 L2086.5 452.6 L2087.5 448.2 L2088.5 444.4 L2089.5 441.0 L2090.5 438.2 L2091.5 435.9 L2092.5 434.1 L2093.5 432.9 L2094.5 432.2 L2095.5 432.0 L2096.5 432.4 L2097.5 433.2 L2098.5 434.6 L2099.5 436.4 L2100.5 438.7 L2101.5 441.5 L2102.5 444.8 L2103.5 448.5 L2104.5 452.6 L2105.5 457.1 L2106.5 462.0 L2107.5 467.2 L2108.5 472.8 L2109.5 478.7 L2110.5 484.8 L2111.5 491.3 L2112.5 497.9 L2113.5 504.7 L2114.5 511.8 L2115.5 518.9 L2116.5 526.2 L2117.5 533.6 L2118.5 541.0 L2119.5 548.4 L2120.5 555.8 L2121.5 563.1"/>
</g>
<g shape-rendering="crispEdges">
<rect x="1336" y="883" width="492" height="239" fill="#fff"/>
<g fill="#000"><rect x="1336" y="881" width="492" height="5"/><rect x="1336" y="1119" width="492" height="5"/><rect x="1333" y="883" width="6" height="239"/><rect x="1825" y="883" width="5" height="239"/></g>
<circle cx="1512.5" cy="950" r="8.7" fill="#f00"/>
<rect x="1386" y="1050" width="253" height="9" fill="#00f"/>
</g>
<g font-size="100px">
<text transform="matrix(0.7718 0 0 0.6931 0 964.55)" x="2160.19 2219.03 2275.59" stroke="#fff" stroke-width="1.23" stroke-linejoin="round">FEM</text>
<text transform="matrix(0.7190 0 0 0.6931 0 1068.45)" x="2318.86 2391.94" stroke="#fff" stroke-width="1.27" stroke-linejoin="round">HM</text>
<text transform="matrix(0.7284 0 0 0.6931 171.91 64.50)" stroke="#fff" stroke-width="1.41" stroke-linejoin="round">3.6</text>
<text transform="matrix(0.7450 0 0 0.6931 173.23 199.00)" stroke="#fff" stroke-width="1.39" stroke-linejoin="round">2.7</text>
<text transform="matrix(0.7304 0 0 0.6930 172.88 333.50)" stroke="#fff" stroke-width="1.41" stroke-linejoin="round">1.8</text>
<text transform="matrix(0.7413 0 0 0.6930 171.78 468.00)" stroke="#fff" stroke-width="1.40" stroke-linejoin="round">0.9</text>
<text transform="matrix(0.7244 0 0 0.6930 227.94 602.50)" stroke="#fff" stroke-width="1.41" stroke-linejoin="round">0</text>
<text transform="matrix(0.7387 0 0 0.6870 0 736.80)" x="171.14 235.79" y="8.15 0.00" stroke="#fff" stroke-width="0.84" stroke-linejoin="round">−0.9</text>
<text transform="matrix(0.7313 0 0 0.6870 0 871.30)" x="170.71 236.39" y="8.15 0.00" stroke="#fff" stroke-width="0.85" stroke-linejoin="round">−1.8</text>
<text transform="matrix(0.7424 0 0 0.6871 0 1005.80)" x="167.74 233.34" y="8.15 0.00" stroke="#fff" stroke-width="0.84" stroke-linejoin="round">−2.7</text>
<text transform="matrix(0.7284 0 0 0.6871 0 1140.30)" x="174.24 238.75" y="8.15 0.00" stroke="#fff" stroke-width="0.85" stroke-linejoin="round">−3.6</text>
<text transform="matrix(0.7338 0 0 0.6930 276.61 1209.20)" stroke="#fff" stroke-width="1.40" stroke-linejoin="round">0</text>
<text transform="matrix(0.7347 0 0 0.6930 623.03 1209.20)" stroke="#fff" stroke-width="1.40" stroke-linejoin="round">50</text>
<text transform="matrix(0.7125 0 0 0.6930 971.64 1209.20)" stroke="#fff" stroke-width="1.42" stroke-linejoin="round">100</text>
<text transform="matrix(0.7132 0 0 0.6930 1337.43 1209.20)" stroke="#fff" stroke-width="1.42" stroke-linejoin="round">150</text>
<text transform="matrix(0.7081 0 0 0.6930 1702.99 1209.20)" stroke="#fff" stroke-width="1.43" stroke-linejoin="round">200</text>
<text transform="matrix(0.7081 0 0 0.6930 2069.29 1209.20)" stroke="#fff" stroke-width="1.43" stroke-linejoin="round">250</text>
<text transform="matrix(0.9413 0 0 0.7630 1133.86 1313.05)" font-style="italic" stroke="#fff" stroke-width="1.89" stroke-linejoin="round">t</text>
<text transform="matrix(0.4491 0 0 0.8095 1166.77 1318.17)">[</text>
<text transform="matrix(0.8994 0 0 0.6921 0 1313.35)" x="1308.81 1356.89" stroke="#fff" stroke-width="1.90" stroke-linejoin="round">μs</text>
<text transform="matrix(0.4536 0 0 0.8095 1252.26 1318.17)">]</text>
<g transform="rotate(-90)">
<text transform="matrix(0.8949 0 0 0.7086 -772.06 77.70)" font-style="italic" stroke="#fff" stroke-width="2.01" stroke-linejoin="round">T</text>
<text transform="matrix(0.6407 0 0 0.4818 0 54.10)" x="-1117.51 -1070.72" stroke="#fff" stroke-width="1.80" stroke-linejoin="round">ar</text>
<text transform="matrix(0.4626 0 0 0.8107 -630.53 83.25)">[</text>
<text transform="matrix(0.7446 0 0 0.6992 0 77.40)" x="-823.20 -747.86 -673.59" stroke="#fff" stroke-width="1.39" stroke-linejoin="round">mNm</text>
<text transform="matrix(0.4401 0 0 0.8107 -444.39 83.25)">]</text>
</g>
</g>
</svg></body></html>
